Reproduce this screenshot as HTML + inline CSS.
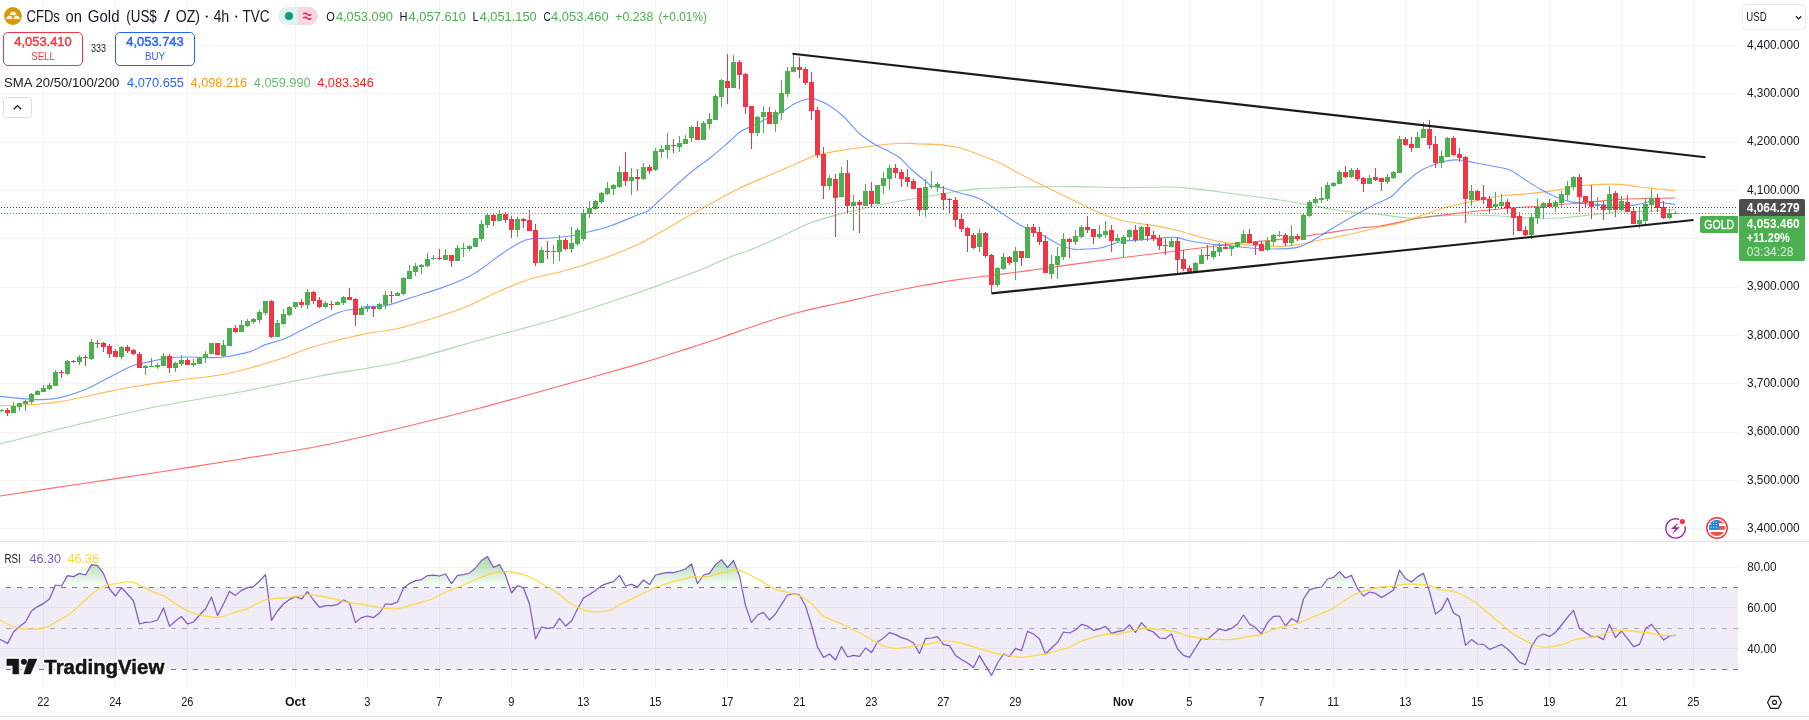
<!DOCTYPE html>
<html><head><meta charset="utf-8"><title>CFDs on Gold</title><style>html,body{margin:0;padding:0;background:#fff;overflow:hidden}svg{display:block;will-change:transform}</style></head><body>
<svg width="1809" height="720" viewBox="0 0 1809 720" font-family='"Liberation Sans", sans-serif'>
<rect width="1809" height="720" fill="#fff"/>
<g shape-rendering="crispEdges" fill="#f2f4f4">
<rect x="43" y="0" width="1" height="688"/>
<rect x="115" y="0" width="1" height="688"/>
<rect x="187" y="0" width="1" height="688"/>
<rect x="295" y="0" width="1" height="688"/>
<rect x="367" y="0" width="1" height="688"/>
<rect x="439" y="0" width="1" height="688"/>
<rect x="511" y="0" width="1" height="688"/>
<rect x="583" y="0" width="1" height="688"/>
<rect x="655" y="0" width="1" height="688"/>
<rect x="727" y="0" width="1" height="688"/>
<rect x="799" y="0" width="1" height="688"/>
<rect x="871" y="0" width="1" height="688"/>
<rect x="943" y="0" width="1" height="688"/>
<rect x="1015" y="0" width="1" height="688"/>
<rect x="1123" y="0" width="1" height="688"/>
<rect x="1189" y="0" width="1" height="688"/>
<rect x="1261" y="0" width="1" height="688"/>
<rect x="1333" y="0" width="1" height="688"/>
<rect x="1405" y="0" width="1" height="688"/>
<rect x="1477" y="0" width="1" height="688"/>
<rect x="1549" y="0" width="1" height="688"/>
<rect x="1621" y="0" width="1" height="688"/>
<rect x="1693" y="0" width="1" height="688"/>
<rect x="0" y="45" width="1738" height="1"/>
<rect x="0" y="93" width="1738" height="1"/>
<rect x="0" y="142" width="1738" height="1"/>
<rect x="0" y="190" width="1738" height="1"/>
<rect x="0" y="238" width="1738" height="1"/>
<rect x="0" y="287" width="1738" height="1"/>
<rect x="0" y="335" width="1738" height="1"/>
<rect x="0" y="383" width="1738" height="1"/>
<rect x="0" y="432" width="1738" height="1"/>
<rect x="0" y="480" width="1738" height="1"/>
<rect x="0" y="528" width="1738" height="1"/>
<rect x="0" y="567" width="1738" height="1"/>
<rect x="0" y="607" width="1738" height="1"/>
<rect x="0" y="648" width="1738" height="1"/>
</g>
<rect x="0" y="587.4" width="1738" height="82" fill="#7e57c2" fill-opacity="0.115"/>
<path d="M0.0 496.0 C13.3 494.0 53.3 488.0 80.0 484.0 C106.7 480.0 133.3 476.1 160.0 472.0 C186.7 467.9 213.3 463.5 240.0 459.2 C266.7 454.9 293.3 451.2 320.0 446.0 C346.7 440.8 373.3 434.3 400.0 428.0 C426.7 421.7 453.3 415.0 480.0 408.0 C506.7 401.0 533.3 393.4 560.0 386.0 C586.7 378.6 620.0 369.4 640.0 363.6 C660.0 357.8 666.7 355.3 680.0 351.0 C693.3 346.7 706.7 342.5 720.0 338.0 C733.3 333.5 746.7 328.3 760.0 324.0 C773.3 319.7 786.7 315.5 800.0 312.0 C813.3 308.5 826.7 306.0 840.0 303.0 C853.3 300.0 866.7 296.8 880.0 294.0 C893.3 291.2 906.7 288.4 920.0 286.0 C933.3 283.6 948.3 281.1 960.0 279.4 C971.7 277.7 983.3 276.4 990.0 275.6 C996.7 274.8 991.7 275.5 1000.0 274.4 C1008.3 273.3 1027.0 270.8 1040.0 269.0 C1053.0 267.2 1064.7 265.4 1078.0 263.6 C1091.3 261.8 1106.3 259.8 1120.0 258.0 C1133.7 256.2 1146.7 254.7 1160.0 253.0 C1173.3 251.3 1186.7 249.7 1200.0 248.0 C1213.3 246.3 1226.7 244.4 1240.0 243.0 C1253.3 241.6 1266.7 240.9 1280.0 239.4 C1293.3 237.9 1306.7 235.9 1320.0 234.0 C1333.3 232.1 1350.0 229.3 1360.0 228.0 C1370.0 226.7 1370.0 227.7 1380.0 226.0 C1390.0 224.3 1406.7 220.2 1420.0 218.0 C1433.3 215.8 1446.7 214.5 1460.0 213.0 C1473.3 211.5 1486.7 210.2 1500.0 209.0 C1513.3 207.8 1526.7 207.0 1540.0 206.0 C1553.3 205.0 1566.7 204.1 1580.0 203.0 C1593.3 201.9 1608.3 200.2 1620.0 199.4 C1631.7 198.6 1640.8 198.6 1650.0 198.4 C1659.2 198.2 1670.8 198.1 1675.0 198.0" fill="none" stroke="#ff2020" stroke-opacity="0.66" stroke-width="1.15" stroke-linejoin="round"/>
<path d="M0.0 444.0 C13.3 440.7 53.3 430.3 80.0 424.0 C106.7 417.7 133.3 411.3 160.0 406.0 C186.7 400.7 213.3 397.0 240.0 392.0 C266.7 387.0 293.3 381.0 320.0 376.0 C346.7 371.0 373.3 368.0 400.0 362.0 C426.7 356.0 453.3 347.3 480.0 340.0 C506.7 332.7 533.3 326.0 560.0 318.0 C586.7 310.0 621.7 298.2 640.0 292.0 C658.3 285.8 660.0 284.7 670.0 281.0 C680.0 277.3 690.0 274.0 700.0 270.0 C710.0 266.0 721.7 260.3 730.0 257.0 C738.3 253.7 741.7 253.3 750.0 250.0 C758.3 246.7 770.0 241.5 780.0 237.0 C790.0 232.5 800.0 226.8 810.0 223.0 C820.0 219.2 830.0 216.7 840.0 214.0 C850.0 211.3 860.0 209.2 870.0 207.0 C880.0 204.8 890.0 202.8 900.0 201.0 C910.0 199.2 920.0 197.7 930.0 196.0 C940.0 194.3 951.7 192.2 960.0 191.0 C968.3 189.8 973.3 189.1 980.0 188.6 C986.7 188.1 993.3 188.3 1000.0 188.0 C1006.7 187.7 1011.7 187.2 1020.0 187.0 C1028.3 186.8 1040.3 186.9 1050.0 186.8 C1059.7 186.7 1066.3 186.5 1078.0 186.6 C1089.7 186.7 1104.7 187.5 1120.0 187.6 C1135.3 187.7 1158.3 186.9 1170.0 187.0 C1181.7 187.1 1181.7 187.6 1190.0 188.4 C1198.3 189.2 1210.0 190.7 1220.0 192.0 C1230.0 193.3 1240.0 194.7 1250.0 196.0 C1260.0 197.3 1270.0 198.5 1280.0 200.0 C1290.0 201.5 1301.7 203.5 1310.0 205.0 C1318.3 206.5 1321.7 207.7 1330.0 209.0 C1338.3 210.3 1351.7 212.1 1360.0 213.0 C1368.3 213.9 1371.7 213.6 1380.0 214.4 C1388.3 215.2 1400.0 217.7 1410.0 218.0 C1420.0 218.3 1430.0 216.5 1440.0 216.0 C1450.0 215.5 1460.0 215.0 1470.0 215.0 C1480.0 215.0 1490.0 215.5 1500.0 216.0 C1510.0 216.5 1520.0 217.7 1530.0 218.0 C1540.0 218.3 1550.0 218.5 1560.0 218.0 C1570.0 217.5 1580.0 216.0 1590.0 215.0 C1600.0 214.0 1610.0 212.7 1620.0 212.0 C1630.0 211.3 1640.8 211.4 1650.0 211.0 C1659.2 210.6 1670.8 209.7 1675.0 209.4" fill="none" stroke="#66bb6a" stroke-opacity="0.55" stroke-width="1.15" stroke-linejoin="round"/>
<path d="M0.0 405.6 C3.3 405.5 13.3 405.3 20.0 405.0 C26.7 404.7 33.3 404.6 40.0 404.0 C46.7 403.4 52.7 402.8 60.0 401.6 C67.3 400.4 76.0 398.7 84.0 397.0 C92.0 395.3 100.0 393.3 108.0 391.6 C116.0 389.9 123.3 388.5 132.0 387.0 C140.7 385.5 150.7 383.9 160.0 382.6 C169.3 381.3 178.0 380.3 188.0 379.0 C198.0 377.7 209.7 376.8 220.0 375.0 C230.3 373.2 240.0 370.7 250.0 368.0 C260.0 365.3 270.0 362.3 280.0 359.0 C290.0 355.7 300.0 351.2 310.0 348.0 C320.0 344.8 332.0 341.7 340.0 339.6 C348.0 337.5 353.3 336.5 358.0 335.4 C362.7 334.3 361.0 334.4 368.0 333.2 C375.0 332.0 388.0 330.9 400.0 328.0 C412.0 325.1 428.7 319.7 440.0 316.0 C451.3 312.3 458.0 310.2 468.0 306.0 C478.0 301.8 489.7 295.5 500.0 291.0 C510.3 286.5 520.0 282.2 530.0 279.0 C540.0 275.8 551.0 274.3 560.0 272.0 C569.0 269.7 575.7 267.7 584.0 265.0 C592.3 262.3 600.7 259.6 610.0 256.0 C619.3 252.4 628.3 249.4 640.0 243.6 C651.7 237.8 668.3 227.6 680.0 221.0 C691.7 214.4 700.0 209.5 710.0 204.0 C720.0 198.5 730.0 192.8 740.0 188.0 C750.0 183.2 760.0 179.3 770.0 175.0 C780.0 170.7 792.3 165.3 800.0 162.0 C807.7 158.7 809.3 157.3 816.0 155.4 C822.7 153.5 831.0 152.1 840.0 150.6 C849.0 149.1 861.7 147.5 870.0 146.4 C878.3 145.3 884.0 144.5 890.0 144.0 C896.0 143.5 901.0 143.2 906.0 143.2 C911.0 143.2 914.3 143.8 920.0 144.0 C925.7 144.2 933.3 143.9 940.0 144.6 C946.7 145.3 953.3 146.3 960.0 148.0 C966.7 149.7 973.3 152.5 980.0 155.0 C986.7 157.5 993.3 159.8 1000.0 163.0 C1006.7 166.2 1011.7 169.7 1020.0 174.0 C1028.3 178.3 1040.3 184.3 1050.0 189.0 C1059.7 193.7 1069.7 198.4 1078.0 202.4 C1086.3 206.4 1093.0 210.1 1100.0 213.0 C1107.0 215.9 1113.3 218.2 1120.0 220.0 C1126.7 221.8 1133.3 222.5 1140.0 223.6 C1146.7 224.7 1153.3 225.4 1160.0 226.6 C1166.7 227.8 1173.3 229.3 1180.0 231.0 C1186.7 232.7 1193.3 235.2 1200.0 237.0 C1206.7 238.8 1213.3 240.4 1220.0 241.6 C1226.7 242.8 1233.3 243.7 1240.0 244.4 C1246.7 245.1 1253.3 245.7 1260.0 246.0 C1266.7 246.3 1273.3 246.7 1280.0 246.4 C1286.7 246.1 1293.3 245.5 1300.0 244.4 C1306.7 243.3 1313.3 241.3 1320.0 240.0 C1326.7 238.7 1333.3 237.7 1340.0 236.4 C1346.7 235.1 1353.3 233.6 1360.0 232.0 C1366.7 230.4 1373.3 228.5 1380.0 227.0 C1386.7 225.5 1393.3 224.8 1400.0 223.0 C1406.7 221.2 1413.3 218.3 1420.0 216.0 C1426.7 213.7 1433.3 211.0 1440.0 209.0 C1446.7 207.0 1453.3 205.5 1460.0 204.0 C1466.7 202.5 1473.3 201.3 1480.0 200.0 C1486.7 198.7 1493.3 196.9 1500.0 196.0 C1506.7 195.1 1513.3 195.0 1520.0 194.4 C1526.7 193.8 1533.3 193.2 1540.0 192.4 C1546.7 191.6 1553.3 190.7 1560.0 189.6 C1566.7 188.5 1573.3 186.9 1580.0 186.0 C1586.7 185.1 1593.3 184.7 1600.0 184.4 C1606.7 184.1 1613.3 184.0 1620.0 184.4 C1626.7 184.8 1633.3 186.2 1640.0 187.0 C1646.7 187.8 1654.2 188.4 1660.0 189.0 C1665.8 189.6 1672.5 190.3 1675.0 190.6" fill="none" stroke="#ff9800" stroke-opacity="0.66" stroke-width="1.15" stroke-linejoin="round"/>
<path d="M0.0 396.4 C3.3 396.7 13.3 397.9 20.0 398.4 C26.7 398.9 33.3 399.7 40.0 399.6 C46.7 399.5 52.7 399.2 60.0 397.6 C67.3 396.0 76.0 393.3 84.0 390.0 C92.0 386.7 100.0 382.0 108.0 378.0 C116.0 374.0 125.0 368.7 132.0 366.0 C139.0 363.3 143.7 363.0 150.0 361.6 C156.3 360.2 163.3 358.4 170.0 357.6 C176.7 356.8 183.3 357.0 190.0 357.0 C196.7 357.0 204.3 357.6 210.0 357.6 C215.7 357.6 217.3 358.0 224.0 357.0 C230.7 356.0 243.0 353.7 250.0 351.6 C257.0 349.5 260.3 346.5 266.0 344.4 C271.7 342.3 278.3 341.2 284.0 339.0 C289.7 336.8 294.0 334.0 300.0 331.0 C306.0 328.0 313.3 324.2 320.0 321.0 C326.7 317.8 335.0 313.9 340.0 312.0 C345.0 310.1 347.0 310.0 350.0 309.6 C353.0 309.2 355.3 310.1 358.0 309.6 C360.7 309.1 361.3 307.3 366.0 306.6 C370.7 305.9 378.7 307.0 386.0 305.6 C393.3 304.2 401.0 300.9 410.0 298.0 C419.0 295.1 430.3 291.9 440.0 288.4 C449.7 284.9 460.7 280.6 468.0 277.0 C475.3 273.4 478.7 270.7 484.0 267.0 C489.3 263.3 494.0 259.1 500.0 255.0 C506.0 250.9 515.0 245.1 520.0 242.4 C525.0 239.7 525.0 239.7 530.0 239.0 C535.0 238.3 543.3 238.5 550.0 238.0 C556.7 237.5 564.3 236.8 570.0 236.0 C575.7 235.2 577.3 234.7 584.0 233.0 C590.7 231.3 600.7 229.2 610.0 226.0 C619.3 222.8 633.7 216.5 640.0 214.0 C646.3 211.5 644.7 213.3 648.0 211.0 C651.3 208.7 653.0 206.3 660.0 200.0 C667.0 193.7 681.7 180.0 690.0 173.0 C698.3 166.0 703.3 163.3 710.0 158.0 C716.7 152.7 725.0 145.3 730.0 141.0 C735.0 136.7 736.3 134.5 740.0 132.0 C743.7 129.5 748.0 128.0 752.0 126.0 C756.0 124.0 759.3 122.2 764.0 120.0 C768.7 117.8 774.7 115.8 780.0 113.0 C785.3 110.2 791.3 105.3 796.0 103.0 C800.7 100.7 804.7 99.6 808.0 99.0 C811.3 98.4 812.3 98.2 816.0 99.4 C819.7 100.6 825.3 103.1 830.0 106.0 C834.7 108.9 839.0 112.3 844.0 117.0 C849.0 121.7 854.7 129.3 860.0 134.0 C865.3 138.7 871.0 142.0 876.0 145.0 C881.0 148.0 886.0 149.8 890.0 152.0 C894.0 154.2 896.3 155.0 900.0 158.0 C903.7 161.0 908.0 166.3 912.0 170.0 C916.0 173.7 920.7 177.3 924.0 180.0 C927.3 182.7 928.7 184.7 932.0 186.0 C935.3 187.3 939.3 186.8 944.0 188.0 C948.7 189.2 954.0 191.2 960.0 193.0 C966.0 194.8 973.3 195.8 980.0 199.0 C986.7 202.2 993.3 207.7 1000.0 212.0 C1006.7 216.3 1014.7 222.0 1020.0 225.0 C1025.3 228.0 1028.0 228.2 1032.0 230.0 C1036.0 231.8 1039.3 233.5 1044.0 236.0 C1048.7 238.5 1055.3 242.8 1060.0 245.0 C1064.7 247.2 1068.7 248.3 1072.0 249.0 C1075.3 249.7 1075.3 249.6 1080.0 249.4 C1084.7 249.2 1095.0 248.7 1100.0 248.0 C1105.0 247.3 1106.0 246.2 1110.0 245.0 C1114.0 243.8 1119.0 241.8 1124.0 241.0 C1129.0 240.2 1134.0 240.5 1140.0 240.0 C1146.0 239.5 1154.0 238.4 1160.0 238.0 C1166.0 237.6 1171.0 236.9 1176.0 237.4 C1181.0 237.9 1184.3 239.9 1190.0 241.0 C1195.7 242.1 1203.3 243.2 1210.0 244.0 C1216.7 244.8 1223.3 244.9 1230.0 245.6 C1236.7 246.3 1243.3 247.4 1250.0 248.0 C1256.7 248.6 1263.3 248.9 1270.0 249.0 C1276.7 249.1 1285.0 248.8 1290.0 248.4 C1295.0 248.0 1296.7 247.7 1300.0 246.6 C1303.3 245.5 1305.0 244.8 1310.0 242.0 C1315.0 239.2 1323.3 234.0 1330.0 230.0 C1336.7 226.0 1343.3 221.8 1350.0 218.0 C1356.7 214.2 1365.0 209.7 1370.0 207.0 C1375.0 204.3 1376.3 203.8 1380.0 202.0 C1383.7 200.2 1388.0 199.0 1392.0 196.0 C1396.0 193.0 1399.3 188.2 1404.0 184.0 C1408.7 179.8 1414.7 174.3 1420.0 171.0 C1425.3 167.7 1431.3 165.7 1436.0 164.0 C1440.7 162.3 1444.0 161.3 1448.0 160.6 C1452.0 159.9 1455.3 159.6 1460.0 160.0 C1464.7 160.4 1470.7 162.0 1476.0 163.0 C1481.3 164.0 1486.3 164.8 1492.0 166.0 C1497.7 167.2 1504.7 167.8 1510.0 170.0 C1515.3 172.2 1519.0 175.8 1524.0 179.0 C1529.0 182.2 1534.7 186.0 1540.0 189.0 C1545.3 192.0 1551.0 194.9 1556.0 197.0 C1561.0 199.1 1564.3 200.4 1570.0 201.6 C1575.7 202.8 1583.3 203.4 1590.0 204.0 C1596.7 204.6 1603.3 204.8 1610.0 205.0 C1616.7 205.2 1625.0 205.6 1630.0 205.4 C1635.0 205.2 1636.7 204.6 1640.0 204.0 C1643.3 203.4 1646.0 201.8 1650.0 201.6 C1654.0 201.4 1659.8 202.5 1664.0 203.0 C1668.2 203.5 1673.2 204.2 1675.0 204.4" fill="none" stroke="#2962ff" stroke-opacity="0.66" stroke-width="1.15" stroke-linejoin="round"/>
<g shape-rendering="crispEdges">
<rect x="1" y="409" width="1" height="3" fill="#4caf50"/>
<rect x="-1" y="410" width="5" height="1" fill="#4caf50"/>
<rect x="7" y="408" width="1" height="8" fill="#f23645"/>
<rect x="5" y="410" width="5" height="3" fill="#f23645"/>
<rect x="13" y="402" width="1" height="11" fill="#4caf50"/>
<rect x="11" y="406" width="5" height="7" fill="#4caf50"/>
<rect x="19" y="403" width="1" height="8" fill="#4caf50"/>
<rect x="17" y="403" width="5" height="4" fill="#4caf50"/>
<rect x="25" y="400" width="1" height="11" fill="#4caf50"/>
<rect x="23" y="401" width="5" height="3" fill="#4caf50"/>
<rect x="31" y="393" width="1" height="11" fill="#4caf50"/>
<rect x="29" y="394" width="5" height="8" fill="#4caf50"/>
<rect x="37" y="390" width="1" height="5" fill="#4caf50"/>
<rect x="35" y="391" width="5" height="4" fill="#4caf50"/>
<rect x="43" y="385" width="1" height="7" fill="#4caf50"/>
<rect x="41" y="388" width="5" height="4" fill="#4caf50"/>
<rect x="49" y="383" width="1" height="7" fill="#4caf50"/>
<rect x="47" y="385" width="5" height="4" fill="#4caf50"/>
<rect x="55" y="370" width="1" height="16" fill="#4caf50"/>
<rect x="53" y="372" width="5" height="14" fill="#4caf50"/>
<rect x="61" y="370" width="1" height="8" fill="#f23645"/>
<rect x="59" y="372" width="5" height="1" fill="#f23645"/>
<rect x="67" y="360" width="1" height="15" fill="#4caf50"/>
<rect x="65" y="361" width="5" height="13" fill="#4caf50"/>
<rect x="73" y="360" width="1" height="3" fill="#f23645"/>
<rect x="71" y="361" width="5" height="1" fill="#f23645"/>
<rect x="79" y="355" width="1" height="10" fill="#4caf50"/>
<rect x="77" y="357" width="5" height="5" fill="#4caf50"/>
<rect x="85" y="355" width="1" height="11" fill="#f23645"/>
<rect x="83" y="357" width="5" height="1" fill="#f23645"/>
<rect x="91" y="339" width="1" height="21" fill="#4caf50"/>
<rect x="89" y="342" width="5" height="17" fill="#4caf50"/>
<rect x="97" y="340" width="1" height="8" fill="#f23645"/>
<rect x="95" y="343" width="5" height="1" fill="#f23645"/>
<rect x="103" y="342" width="1" height="10" fill="#f23645"/>
<rect x="101" y="343" width="5" height="4" fill="#f23645"/>
<rect x="109" y="344" width="1" height="14" fill="#f23645"/>
<rect x="107" y="346" width="5" height="8" fill="#f23645"/>
<rect x="115" y="349" width="1" height="8" fill="#f23645"/>
<rect x="113" y="351" width="5" height="6" fill="#f23645"/>
<rect x="121" y="346" width="1" height="13" fill="#4caf50"/>
<rect x="119" y="347" width="5" height="10" fill="#4caf50"/>
<rect x="127" y="345" width="1" height="8" fill="#f23645"/>
<rect x="125" y="347" width="5" height="4" fill="#f23645"/>
<rect x="133" y="349" width="1" height="6" fill="#f23645"/>
<rect x="131" y="350" width="5" height="4" fill="#f23645"/>
<rect x="139" y="352" width="1" height="16" fill="#f23645"/>
<rect x="137" y="354" width="5" height="14" fill="#f23645"/>
<rect x="145" y="365" width="1" height="10" fill="#4caf50"/>
<rect x="143" y="366" width="5" height="2" fill="#4caf50"/>
<rect x="151" y="358" width="1" height="9" fill="#4caf50"/>
<rect x="149" y="366" width="5" height="1" fill="#4caf50"/>
<rect x="157" y="363" width="1" height="6" fill="#4caf50"/>
<rect x="155" y="365" width="5" height="2" fill="#4caf50"/>
<rect x="163" y="353" width="1" height="13" fill="#4caf50"/>
<rect x="161" y="356" width="5" height="10" fill="#4caf50"/>
<rect x="169" y="354" width="1" height="19" fill="#f23645"/>
<rect x="167" y="356" width="5" height="12" fill="#f23645"/>
<rect x="175" y="362" width="1" height="10" fill="#4caf50"/>
<rect x="173" y="363" width="5" height="5" fill="#4caf50"/>
<rect x="181" y="355" width="1" height="11" fill="#4caf50"/>
<rect x="179" y="360" width="5" height="4" fill="#4caf50"/>
<rect x="187" y="358" width="1" height="7" fill="#f23645"/>
<rect x="185" y="360" width="5" height="5" fill="#f23645"/>
<rect x="193" y="359" width="1" height="8" fill="#4caf50"/>
<rect x="191" y="363" width="5" height="2" fill="#4caf50"/>
<rect x="199" y="357" width="1" height="7" fill="#4caf50"/>
<rect x="197" y="358" width="5" height="6" fill="#4caf50"/>
<rect x="205" y="351" width="1" height="12" fill="#4caf50"/>
<rect x="203" y="354" width="5" height="4" fill="#4caf50"/>
<rect x="211" y="343" width="1" height="11" fill="#4caf50"/>
<rect x="209" y="343" width="5" height="11" fill="#4caf50"/>
<rect x="217" y="343" width="1" height="12" fill="#f23645"/>
<rect x="215" y="343" width="5" height="12" fill="#f23645"/>
<rect x="223" y="340" width="1" height="17" fill="#4caf50"/>
<rect x="221" y="345" width="5" height="11" fill="#4caf50"/>
<rect x="229" y="328" width="1" height="18" fill="#4caf50"/>
<rect x="227" y="328" width="5" height="18" fill="#4caf50"/>
<rect x="235" y="325" width="1" height="8" fill="#f23645"/>
<rect x="233" y="328" width="5" height="4" fill="#f23645"/>
<rect x="241" y="320" width="1" height="12" fill="#4caf50"/>
<rect x="239" y="325" width="5" height="7" fill="#4caf50"/>
<rect x="247" y="319" width="1" height="8" fill="#4caf50"/>
<rect x="245" y="321" width="5" height="5" fill="#4caf50"/>
<rect x="253" y="318" width="1" height="6" fill="#4caf50"/>
<rect x="251" y="319" width="5" height="3" fill="#4caf50"/>
<rect x="259" y="310" width="1" height="13" fill="#4caf50"/>
<rect x="257" y="312" width="5" height="8" fill="#4caf50"/>
<rect x="265" y="301" width="1" height="14" fill="#4caf50"/>
<rect x="263" y="301" width="5" height="12" fill="#4caf50"/>
<rect x="271" y="300" width="1" height="38" fill="#f23645"/>
<rect x="269" y="301" width="5" height="36" fill="#f23645"/>
<rect x="277" y="320" width="1" height="17" fill="#4caf50"/>
<rect x="275" y="323" width="5" height="14" fill="#4caf50"/>
<rect x="283" y="309" width="1" height="16" fill="#4caf50"/>
<rect x="281" y="314" width="5" height="10" fill="#4caf50"/>
<rect x="289" y="306" width="1" height="10" fill="#4caf50"/>
<rect x="287" y="307" width="5" height="8" fill="#4caf50"/>
<rect x="295" y="302" width="1" height="7" fill="#4caf50"/>
<rect x="293" y="302" width="5" height="5" fill="#4caf50"/>
<rect x="301" y="299" width="1" height="9" fill="#f23645"/>
<rect x="299" y="302" width="5" height="3" fill="#f23645"/>
<rect x="307" y="289" width="1" height="20" fill="#4caf50"/>
<rect x="305" y="292" width="5" height="13" fill="#4caf50"/>
<rect x="313" y="291" width="1" height="13" fill="#f23645"/>
<rect x="311" y="292" width="5" height="9" fill="#f23645"/>
<rect x="319" y="297" width="1" height="11" fill="#f23645"/>
<rect x="317" y="300" width="5" height="7" fill="#f23645"/>
<rect x="325" y="301" width="1" height="7" fill="#4caf50"/>
<rect x="323" y="303" width="5" height="4" fill="#4caf50"/>
<rect x="331" y="301" width="1" height="9" fill="#f23645"/>
<rect x="329" y="304" width="5" height="1" fill="#f23645"/>
<rect x="337" y="301" width="1" height="4" fill="#4caf50"/>
<rect x="335" y="302" width="5" height="3" fill="#4caf50"/>
<rect x="343" y="296" width="1" height="9" fill="#4caf50"/>
<rect x="341" y="297" width="5" height="6" fill="#4caf50"/>
<rect x="349" y="288" width="1" height="12" fill="#f23645"/>
<rect x="347" y="297" width="5" height="3" fill="#f23645"/>
<rect x="355" y="298" width="1" height="28" fill="#f23645"/>
<rect x="353" y="299" width="5" height="16" fill="#f23645"/>
<rect x="361" y="306" width="1" height="9" fill="#4caf50"/>
<rect x="359" y="308" width="5" height="7" fill="#4caf50"/>
<rect x="367" y="304" width="1" height="8" fill="#4caf50"/>
<rect x="365" y="307" width="5" height="2" fill="#4caf50"/>
<rect x="373" y="306" width="1" height="11" fill="#f23645"/>
<rect x="371" y="307" width="5" height="2" fill="#f23645"/>
<rect x="379" y="303" width="1" height="7" fill="#4caf50"/>
<rect x="377" y="304" width="5" height="5" fill="#4caf50"/>
<rect x="385" y="291" width="1" height="18" fill="#4caf50"/>
<rect x="383" y="295" width="5" height="10" fill="#4caf50"/>
<rect x="391" y="291" width="1" height="12" fill="#f23645"/>
<rect x="389" y="295" width="5" height="1" fill="#f23645"/>
<rect x="397" y="292" width="1" height="4" fill="#4caf50"/>
<rect x="395" y="293" width="5" height="3" fill="#4caf50"/>
<rect x="403" y="277" width="1" height="18" fill="#4caf50"/>
<rect x="401" y="278" width="5" height="16" fill="#4caf50"/>
<rect x="409" y="265" width="1" height="14" fill="#4caf50"/>
<rect x="407" y="271" width="5" height="8" fill="#4caf50"/>
<rect x="415" y="263" width="1" height="13" fill="#4caf50"/>
<rect x="413" y="266" width="5" height="6" fill="#4caf50"/>
<rect x="421" y="264" width="1" height="10" fill="#4caf50"/>
<rect x="419" y="265" width="5" height="2" fill="#4caf50"/>
<rect x="427" y="253" width="1" height="14" fill="#4caf50"/>
<rect x="425" y="259" width="5" height="7" fill="#4caf50"/>
<rect x="433" y="255" width="1" height="5" fill="#4caf50"/>
<rect x="431" y="258" width="5" height="1" fill="#4caf50"/>
<rect x="439" y="249" width="1" height="11" fill="#f23645"/>
<rect x="437" y="258" width="5" height="1" fill="#f23645"/>
<rect x="445" y="249" width="1" height="11" fill="#4caf50"/>
<rect x="443" y="255" width="5" height="5" fill="#4caf50"/>
<rect x="451" y="255" width="1" height="12" fill="#f23645"/>
<rect x="449" y="255" width="5" height="6" fill="#f23645"/>
<rect x="457" y="245" width="1" height="16" fill="#4caf50"/>
<rect x="455" y="248" width="5" height="13" fill="#4caf50"/>
<rect x="463" y="243" width="1" height="14" fill="#4caf50"/>
<rect x="461" y="248" width="5" height="1" fill="#4caf50"/>
<rect x="469" y="245" width="1" height="6" fill="#4caf50"/>
<rect x="467" y="246" width="5" height="3" fill="#4caf50"/>
<rect x="475" y="238" width="1" height="9" fill="#4caf50"/>
<rect x="473" y="238" width="5" height="9" fill="#4caf50"/>
<rect x="481" y="220" width="1" height="21" fill="#4caf50"/>
<rect x="479" y="224" width="5" height="15" fill="#4caf50"/>
<rect x="487" y="214" width="1" height="14" fill="#4caf50"/>
<rect x="485" y="215" width="5" height="10" fill="#4caf50"/>
<rect x="493" y="214" width="1" height="12" fill="#f23645"/>
<rect x="491" y="215" width="5" height="6" fill="#f23645"/>
<rect x="499" y="210" width="1" height="11" fill="#4caf50"/>
<rect x="497" y="214" width="5" height="7" fill="#4caf50"/>
<rect x="505" y="212" width="1" height="11" fill="#f23645"/>
<rect x="503" y="214" width="5" height="6" fill="#f23645"/>
<rect x="511" y="216" width="1" height="22" fill="#f23645"/>
<rect x="509" y="219" width="5" height="11" fill="#f23645"/>
<rect x="517" y="217" width="1" height="20" fill="#4caf50"/>
<rect x="515" y="219" width="5" height="11" fill="#4caf50"/>
<rect x="523" y="218" width="1" height="10" fill="#f23645"/>
<rect x="521" y="219" width="5" height="2" fill="#f23645"/>
<rect x="529" y="210" width="1" height="21" fill="#f23645"/>
<rect x="527" y="220" width="5" height="11" fill="#f23645"/>
<rect x="535" y="224" width="1" height="42" fill="#f23645"/>
<rect x="533" y="230" width="5" height="33" fill="#f23645"/>
<rect x="541" y="247" width="1" height="16" fill="#4caf50"/>
<rect x="539" y="250" width="5" height="13" fill="#4caf50"/>
<rect x="547" y="241" width="1" height="18" fill="#f23645"/>
<rect x="545" y="251" width="5" height="1" fill="#f23645"/>
<rect x="553" y="245" width="1" height="19" fill="#4caf50"/>
<rect x="551" y="251" width="5" height="1" fill="#4caf50"/>
<rect x="559" y="235" width="1" height="26" fill="#4caf50"/>
<rect x="557" y="240" width="5" height="12" fill="#4caf50"/>
<rect x="565" y="238" width="1" height="12" fill="#f23645"/>
<rect x="563" y="240" width="5" height="9" fill="#f23645"/>
<rect x="571" y="227" width="1" height="26" fill="#4caf50"/>
<rect x="569" y="243" width="5" height="6" fill="#4caf50"/>
<rect x="577" y="228" width="1" height="18" fill="#4caf50"/>
<rect x="575" y="230" width="5" height="14" fill="#4caf50"/>
<rect x="583" y="209" width="1" height="32" fill="#4caf50"/>
<rect x="581" y="213" width="5" height="26" fill="#4caf50"/>
<rect x="589" y="201" width="1" height="17" fill="#4caf50"/>
<rect x="587" y="208" width="5" height="6" fill="#4caf50"/>
<rect x="595" y="200" width="1" height="10" fill="#4caf50"/>
<rect x="593" y="201" width="5" height="8" fill="#4caf50"/>
<rect x="601" y="192" width="1" height="12" fill="#4caf50"/>
<rect x="599" y="193" width="5" height="9" fill="#4caf50"/>
<rect x="607" y="182" width="1" height="13" fill="#4caf50"/>
<rect x="605" y="188" width="5" height="6" fill="#4caf50"/>
<rect x="613" y="184" width="1" height="11" fill="#4caf50"/>
<rect x="611" y="185" width="5" height="4" fill="#4caf50"/>
<rect x="619" y="166" width="1" height="22" fill="#4caf50"/>
<rect x="617" y="172" width="5" height="15" fill="#4caf50"/>
<rect x="625" y="152" width="1" height="34" fill="#f23645"/>
<rect x="623" y="172" width="5" height="9" fill="#f23645"/>
<rect x="631" y="168" width="1" height="27" fill="#4caf50"/>
<rect x="629" y="177" width="5" height="4" fill="#4caf50"/>
<rect x="637" y="169" width="1" height="22" fill="#f23645"/>
<rect x="635" y="177" width="5" height="2" fill="#f23645"/>
<rect x="643" y="163" width="1" height="17" fill="#4caf50"/>
<rect x="641" y="167" width="5" height="12" fill="#4caf50"/>
<rect x="649" y="165" width="1" height="9" fill="#f23645"/>
<rect x="647" y="167" width="5" height="4" fill="#f23645"/>
<rect x="655" y="148" width="1" height="23" fill="#4caf50"/>
<rect x="653" y="151" width="5" height="19" fill="#4caf50"/>
<rect x="661" y="145" width="1" height="13" fill="#4caf50"/>
<rect x="659" y="149" width="5" height="3" fill="#4caf50"/>
<rect x="667" y="133" width="1" height="26" fill="#4caf50"/>
<rect x="665" y="145" width="5" height="5" fill="#4caf50"/>
<rect x="673" y="139" width="1" height="14" fill="#f23645"/>
<rect x="671" y="145" width="5" height="1" fill="#f23645"/>
<rect x="679" y="136" width="1" height="16" fill="#4caf50"/>
<rect x="677" y="143" width="5" height="4" fill="#4caf50"/>
<rect x="685" y="135" width="1" height="9" fill="#4caf50"/>
<rect x="683" y="139" width="5" height="5" fill="#4caf50"/>
<rect x="691" y="126" width="1" height="16" fill="#4caf50"/>
<rect x="689" y="127" width="5" height="11" fill="#4caf50"/>
<rect x="697" y="121" width="1" height="19" fill="#f23645"/>
<rect x="695" y="127" width="5" height="13" fill="#f23645"/>
<rect x="703" y="121" width="1" height="19" fill="#4caf50"/>
<rect x="701" y="123" width="5" height="17" fill="#4caf50"/>
<rect x="709" y="113" width="1" height="16" fill="#4caf50"/>
<rect x="707" y="119" width="5" height="5" fill="#4caf50"/>
<rect x="715" y="94" width="1" height="26" fill="#4caf50"/>
<rect x="713" y="96" width="5" height="24" fill="#4caf50"/>
<rect x="721" y="79" width="1" height="28" fill="#4caf50"/>
<rect x="719" y="80" width="5" height="17" fill="#4caf50"/>
<rect x="727" y="54" width="1" height="50" fill="#f23645"/>
<rect x="725" y="81" width="5" height="7" fill="#f23645"/>
<rect x="733" y="55" width="1" height="33" fill="#4caf50"/>
<rect x="731" y="62" width="5" height="26" fill="#4caf50"/>
<rect x="739" y="60" width="1" height="29" fill="#f23645"/>
<rect x="737" y="62" width="5" height="13" fill="#f23645"/>
<rect x="745" y="73" width="1" height="41" fill="#f23645"/>
<rect x="743" y="74" width="5" height="33" fill="#f23645"/>
<rect x="751" y="106" width="1" height="43" fill="#f23645"/>
<rect x="749" y="106" width="5" height="27" fill="#f23645"/>
<rect x="757" y="116" width="1" height="20" fill="#4caf50"/>
<rect x="755" y="117" width="5" height="16" fill="#4caf50"/>
<rect x="763" y="106" width="1" height="27" fill="#4caf50"/>
<rect x="761" y="112" width="5" height="5" fill="#4caf50"/>
<rect x="769" y="107" width="1" height="17" fill="#f23645"/>
<rect x="767" y="112" width="5" height="12" fill="#f23645"/>
<rect x="775" y="110" width="1" height="22" fill="#4caf50"/>
<rect x="773" y="112" width="5" height="12" fill="#4caf50"/>
<rect x="781" y="80" width="1" height="40" fill="#4caf50"/>
<rect x="779" y="93" width="5" height="20" fill="#4caf50"/>
<rect x="787" y="67" width="1" height="30" fill="#4caf50"/>
<rect x="785" y="71" width="5" height="23" fill="#4caf50"/>
<rect x="793" y="54" width="1" height="18" fill="#4caf50"/>
<rect x="791" y="67" width="5" height="5" fill="#4caf50"/>
<rect x="799" y="57" width="1" height="21" fill="#f23645"/>
<rect x="797" y="67" width="5" height="3" fill="#f23645"/>
<rect x="805" y="67" width="1" height="18" fill="#f23645"/>
<rect x="803" y="69" width="5" height="14" fill="#f23645"/>
<rect x="811" y="72" width="1" height="48" fill="#f23645"/>
<rect x="809" y="82" width="5" height="29" fill="#f23645"/>
<rect x="817" y="107" width="1" height="51" fill="#f23645"/>
<rect x="815" y="110" width="5" height="45" fill="#f23645"/>
<rect x="823" y="147" width="1" height="52" fill="#f23645"/>
<rect x="821" y="154" width="5" height="32" fill="#f23645"/>
<rect x="829" y="175" width="1" height="15" fill="#4caf50"/>
<rect x="827" y="178" width="5" height="8" fill="#4caf50"/>
<rect x="835" y="174" width="1" height="63" fill="#f23645"/>
<rect x="833" y="179" width="5" height="19" fill="#f23645"/>
<rect x="841" y="167" width="1" height="30" fill="#4caf50"/>
<rect x="839" y="173" width="5" height="24" fill="#4caf50"/>
<rect x="847" y="160" width="1" height="54" fill="#f23645"/>
<rect x="845" y="173" width="5" height="33" fill="#f23645"/>
<rect x="853" y="195" width="1" height="36" fill="#4caf50"/>
<rect x="851" y="202" width="5" height="4" fill="#4caf50"/>
<rect x="859" y="200" width="1" height="33" fill="#f23645"/>
<rect x="857" y="202" width="5" height="3" fill="#f23645"/>
<rect x="865" y="184" width="1" height="22" fill="#4caf50"/>
<rect x="863" y="191" width="5" height="15" fill="#4caf50"/>
<rect x="871" y="182" width="1" height="26" fill="#f23645"/>
<rect x="869" y="191" width="5" height="13" fill="#f23645"/>
<rect x="877" y="185" width="1" height="19" fill="#4caf50"/>
<rect x="875" y="185" width="5" height="19" fill="#4caf50"/>
<rect x="883" y="172" width="1" height="22" fill="#4caf50"/>
<rect x="881" y="178" width="5" height="8" fill="#4caf50"/>
<rect x="889" y="165" width="1" height="25" fill="#4caf50"/>
<rect x="887" y="168" width="5" height="11" fill="#4caf50"/>
<rect x="895" y="164" width="1" height="14" fill="#f23645"/>
<rect x="893" y="168" width="5" height="5" fill="#f23645"/>
<rect x="901" y="169" width="1" height="18" fill="#f23645"/>
<rect x="899" y="172" width="5" height="7" fill="#f23645"/>
<rect x="907" y="169" width="1" height="18" fill="#f23645"/>
<rect x="905" y="177" width="5" height="5" fill="#f23645"/>
<rect x="913" y="179" width="1" height="10" fill="#f23645"/>
<rect x="911" y="181" width="5" height="8" fill="#f23645"/>
<rect x="919" y="188" width="1" height="28" fill="#f23645"/>
<rect x="917" y="188" width="5" height="22" fill="#f23645"/>
<rect x="925" y="179" width="1" height="38" fill="#4caf50"/>
<rect x="923" y="187" width="5" height="23" fill="#4caf50"/>
<rect x="931" y="171" width="1" height="18" fill="#4caf50"/>
<rect x="929" y="186" width="5" height="1" fill="#4caf50"/>
<rect x="937" y="182" width="1" height="10" fill="#4caf50"/>
<rect x="935" y="184" width="5" height="3" fill="#4caf50"/>
<rect x="943" y="186" width="1" height="24" fill="#f23645"/>
<rect x="941" y="193" width="5" height="7" fill="#f23645"/>
<rect x="949" y="198" width="1" height="16" fill="#f23645"/>
<rect x="947" y="199" width="5" height="1" fill="#f23645"/>
<rect x="955" y="197" width="1" height="30" fill="#f23645"/>
<rect x="953" y="200" width="5" height="20" fill="#f23645"/>
<rect x="961" y="213" width="1" height="19" fill="#f23645"/>
<rect x="959" y="219" width="5" height="10" fill="#f23645"/>
<rect x="967" y="227" width="1" height="25" fill="#f23645"/>
<rect x="965" y="228" width="5" height="8" fill="#f23645"/>
<rect x="973" y="233" width="1" height="16" fill="#f23645"/>
<rect x="971" y="235" width="5" height="13" fill="#f23645"/>
<rect x="979" y="229" width="1" height="23" fill="#4caf50"/>
<rect x="977" y="233" width="5" height="14" fill="#4caf50"/>
<rect x="985" y="232" width="1" height="26" fill="#f23645"/>
<rect x="983" y="233" width="5" height="23" fill="#f23645"/>
<rect x="991" y="254" width="1" height="39" fill="#f23645"/>
<rect x="989" y="255" width="5" height="30" fill="#f23645"/>
<rect x="997" y="267" width="1" height="20" fill="#4caf50"/>
<rect x="995" y="268" width="5" height="17" fill="#4caf50"/>
<rect x="1003" y="253" width="1" height="17" fill="#4caf50"/>
<rect x="1001" y="257" width="5" height="12" fill="#4caf50"/>
<rect x="1009" y="256" width="1" height="9" fill="#f23645"/>
<rect x="1007" y="257" width="5" height="6" fill="#f23645"/>
<rect x="1015" y="247" width="1" height="33" fill="#4caf50"/>
<rect x="1013" y="251" width="5" height="11" fill="#4caf50"/>
<rect x="1021" y="251" width="1" height="15" fill="#f23645"/>
<rect x="1019" y="251" width="5" height="7" fill="#f23645"/>
<rect x="1027" y="224" width="1" height="34" fill="#4caf50"/>
<rect x="1025" y="227" width="5" height="31" fill="#4caf50"/>
<rect x="1033" y="224" width="1" height="13" fill="#f23645"/>
<rect x="1031" y="227" width="5" height="6" fill="#f23645"/>
<rect x="1039" y="227" width="1" height="18" fill="#f23645"/>
<rect x="1037" y="232" width="5" height="10" fill="#f23645"/>
<rect x="1045" y="235" width="1" height="38" fill="#f23645"/>
<rect x="1043" y="241" width="5" height="32" fill="#f23645"/>
<rect x="1051" y="255" width="1" height="24" fill="#4caf50"/>
<rect x="1049" y="264" width="5" height="10" fill="#4caf50"/>
<rect x="1057" y="247" width="1" height="32" fill="#4caf50"/>
<rect x="1055" y="256" width="5" height="9" fill="#4caf50"/>
<rect x="1063" y="233" width="1" height="27" fill="#4caf50"/>
<rect x="1061" y="239" width="5" height="18" fill="#4caf50"/>
<rect x="1069" y="238" width="1" height="20" fill="#f23645"/>
<rect x="1067" y="239" width="5" height="3" fill="#f23645"/>
<rect x="1075" y="230" width="1" height="15" fill="#4caf50"/>
<rect x="1073" y="236" width="5" height="6" fill="#4caf50"/>
<rect x="1081" y="225" width="1" height="13" fill="#4caf50"/>
<rect x="1079" y="227" width="5" height="10" fill="#4caf50"/>
<rect x="1087" y="216" width="1" height="17" fill="#f23645"/>
<rect x="1085" y="227" width="5" height="3" fill="#f23645"/>
<rect x="1093" y="229" width="1" height="15" fill="#f23645"/>
<rect x="1091" y="229" width="5" height="8" fill="#f23645"/>
<rect x="1099" y="225" width="1" height="14" fill="#4caf50"/>
<rect x="1097" y="234" width="5" height="3" fill="#4caf50"/>
<rect x="1105" y="221" width="1" height="17" fill="#4caf50"/>
<rect x="1103" y="231" width="5" height="4" fill="#4caf50"/>
<rect x="1111" y="225" width="1" height="27" fill="#f23645"/>
<rect x="1109" y="230" width="5" height="11" fill="#f23645"/>
<rect x="1117" y="234" width="1" height="9" fill="#4caf50"/>
<rect x="1115" y="238" width="5" height="3" fill="#4caf50"/>
<rect x="1123" y="235" width="1" height="22" fill="#4caf50"/>
<rect x="1121" y="237" width="5" height="7" fill="#4caf50"/>
<rect x="1129" y="229" width="1" height="11" fill="#4caf50"/>
<rect x="1127" y="230" width="5" height="7" fill="#4caf50"/>
<rect x="1135" y="225" width="1" height="17" fill="#f23645"/>
<rect x="1133" y="230" width="5" height="10" fill="#f23645"/>
<rect x="1141" y="226" width="1" height="15" fill="#4caf50"/>
<rect x="1139" y="227" width="5" height="13" fill="#4caf50"/>
<rect x="1147" y="224" width="1" height="17" fill="#f23645"/>
<rect x="1145" y="227" width="5" height="9" fill="#f23645"/>
<rect x="1153" y="231" width="1" height="10" fill="#f23645"/>
<rect x="1151" y="235" width="5" height="4" fill="#f23645"/>
<rect x="1159" y="235" width="1" height="15" fill="#f23645"/>
<rect x="1157" y="238" width="5" height="8" fill="#f23645"/>
<rect x="1165" y="239" width="1" height="16" fill="#f23645"/>
<rect x="1163" y="245" width="5" height="1" fill="#f23645"/>
<rect x="1171" y="238" width="1" height="9" fill="#4caf50"/>
<rect x="1169" y="241" width="5" height="6" fill="#4caf50"/>
<rect x="1177" y="238" width="1" height="35" fill="#f23645"/>
<rect x="1175" y="241" width="5" height="19" fill="#f23645"/>
<rect x="1183" y="250" width="1" height="21" fill="#f23645"/>
<rect x="1181" y="259" width="5" height="10" fill="#f23645"/>
<rect x="1189" y="265" width="1" height="7" fill="#f23645"/>
<rect x="1187" y="268" width="5" height="4" fill="#f23645"/>
<rect x="1195" y="262" width="1" height="10" fill="#4caf50"/>
<rect x="1193" y="263" width="5" height="9" fill="#4caf50"/>
<rect x="1201" y="249" width="1" height="15" fill="#4caf50"/>
<rect x="1199" y="255" width="5" height="9" fill="#4caf50"/>
<rect x="1207" y="245" width="1" height="15" fill="#f23645"/>
<rect x="1205" y="255" width="5" height="1" fill="#f23645"/>
<rect x="1213" y="245" width="1" height="14" fill="#4caf50"/>
<rect x="1211" y="251" width="5" height="6" fill="#4caf50"/>
<rect x="1219" y="243" width="1" height="13" fill="#4caf50"/>
<rect x="1217" y="247" width="5" height="5" fill="#4caf50"/>
<rect x="1225" y="243" width="1" height="6" fill="#f23645"/>
<rect x="1223" y="247" width="5" height="2" fill="#f23645"/>
<rect x="1231" y="246" width="1" height="10" fill="#4caf50"/>
<rect x="1229" y="246" width="5" height="3" fill="#4caf50"/>
<rect x="1237" y="242" width="1" height="6" fill="#4caf50"/>
<rect x="1235" y="242" width="5" height="5" fill="#4caf50"/>
<rect x="1243" y="230" width="1" height="13" fill="#4caf50"/>
<rect x="1241" y="234" width="5" height="9" fill="#4caf50"/>
<rect x="1249" y="229" width="1" height="15" fill="#f23645"/>
<rect x="1247" y="234" width="5" height="9" fill="#f23645"/>
<rect x="1255" y="241" width="1" height="14" fill="#f23645"/>
<rect x="1253" y="242" width="5" height="3" fill="#f23645"/>
<rect x="1261" y="241" width="1" height="10" fill="#f23645"/>
<rect x="1259" y="244" width="5" height="7" fill="#f23645"/>
<rect x="1267" y="237" width="1" height="14" fill="#4caf50"/>
<rect x="1265" y="241" width="5" height="9" fill="#4caf50"/>
<rect x="1273" y="234" width="1" height="12" fill="#4caf50"/>
<rect x="1271" y="235" width="5" height="7" fill="#4caf50"/>
<rect x="1279" y="231" width="1" height="6" fill="#4caf50"/>
<rect x="1277" y="235" width="5" height="1" fill="#4caf50"/>
<rect x="1285" y="233" width="1" height="13" fill="#f23645"/>
<rect x="1283" y="235" width="5" height="8" fill="#f23645"/>
<rect x="1291" y="225" width="1" height="21" fill="#4caf50"/>
<rect x="1289" y="236" width="5" height="7" fill="#4caf50"/>
<rect x="1297" y="234" width="1" height="7" fill="#f23645"/>
<rect x="1295" y="236" width="5" height="3" fill="#f23645"/>
<rect x="1303" y="213" width="1" height="27" fill="#4caf50"/>
<rect x="1301" y="215" width="5" height="25" fill="#4caf50"/>
<rect x="1309" y="200" width="1" height="17" fill="#4caf50"/>
<rect x="1307" y="202" width="5" height="14" fill="#4caf50"/>
<rect x="1315" y="197" width="1" height="7" fill="#4caf50"/>
<rect x="1313" y="199" width="5" height="4" fill="#4caf50"/>
<rect x="1321" y="187" width="1" height="16" fill="#4caf50"/>
<rect x="1319" y="198" width="5" height="2" fill="#4caf50"/>
<rect x="1327" y="182" width="1" height="19" fill="#4caf50"/>
<rect x="1325" y="185" width="5" height="14" fill="#4caf50"/>
<rect x="1333" y="182" width="1" height="5" fill="#4caf50"/>
<rect x="1331" y="183" width="5" height="3" fill="#4caf50"/>
<rect x="1339" y="170" width="1" height="14" fill="#4caf50"/>
<rect x="1337" y="172" width="5" height="12" fill="#4caf50"/>
<rect x="1345" y="166" width="1" height="12" fill="#f23645"/>
<rect x="1343" y="172" width="5" height="5" fill="#f23645"/>
<rect x="1351" y="168" width="1" height="10" fill="#4caf50"/>
<rect x="1349" y="170" width="5" height="7" fill="#4caf50"/>
<rect x="1357" y="168" width="1" height="13" fill="#f23645"/>
<rect x="1355" y="170" width="5" height="9" fill="#f23645"/>
<rect x="1363" y="177" width="1" height="15" fill="#f23645"/>
<rect x="1361" y="178" width="5" height="6" fill="#f23645"/>
<rect x="1369" y="175" width="1" height="9" fill="#4caf50"/>
<rect x="1367" y="178" width="5" height="6" fill="#4caf50"/>
<rect x="1375" y="168" width="1" height="13" fill="#f23645"/>
<rect x="1373" y="177" width="5" height="3" fill="#f23645"/>
<rect x="1381" y="178" width="1" height="13" fill="#f23645"/>
<rect x="1379" y="178" width="5" height="4" fill="#f23645"/>
<rect x="1387" y="174" width="1" height="10" fill="#4caf50"/>
<rect x="1385" y="177" width="5" height="5" fill="#4caf50"/>
<rect x="1393" y="171" width="1" height="8" fill="#4caf50"/>
<rect x="1391" y="172" width="5" height="6" fill="#4caf50"/>
<rect x="1399" y="136" width="1" height="37" fill="#4caf50"/>
<rect x="1397" y="139" width="5" height="34" fill="#4caf50"/>
<rect x="1405" y="137" width="1" height="9" fill="#f23645"/>
<rect x="1403" y="139" width="5" height="6" fill="#f23645"/>
<rect x="1411" y="137" width="1" height="15" fill="#f23645"/>
<rect x="1409" y="144" width="5" height="4" fill="#f23645"/>
<rect x="1417" y="132" width="1" height="16" fill="#4caf50"/>
<rect x="1415" y="137" width="5" height="11" fill="#4caf50"/>
<rect x="1423" y="122" width="1" height="16" fill="#4caf50"/>
<rect x="1421" y="129" width="5" height="9" fill="#4caf50"/>
<rect x="1429" y="120" width="1" height="29" fill="#f23645"/>
<rect x="1427" y="129" width="5" height="16" fill="#f23645"/>
<rect x="1435" y="136" width="1" height="32" fill="#f23645"/>
<rect x="1433" y="144" width="5" height="19" fill="#f23645"/>
<rect x="1441" y="151" width="1" height="17" fill="#4caf50"/>
<rect x="1439" y="156" width="5" height="7" fill="#4caf50"/>
<rect x="1447" y="137" width="1" height="20" fill="#4caf50"/>
<rect x="1445" y="138" width="5" height="19" fill="#4caf50"/>
<rect x="1453" y="136" width="1" height="20" fill="#f23645"/>
<rect x="1451" y="138" width="5" height="17" fill="#f23645"/>
<rect x="1459" y="148" width="1" height="14" fill="#f23645"/>
<rect x="1457" y="154" width="5" height="4" fill="#f23645"/>
<rect x="1465" y="156" width="1" height="67" fill="#f23645"/>
<rect x="1463" y="157" width="5" height="42" fill="#f23645"/>
<rect x="1471" y="185" width="1" height="21" fill="#4caf50"/>
<rect x="1469" y="191" width="5" height="9" fill="#4caf50"/>
<rect x="1477" y="190" width="1" height="11" fill="#f23645"/>
<rect x="1475" y="191" width="5" height="9" fill="#f23645"/>
<rect x="1483" y="185" width="1" height="19" fill="#f23645"/>
<rect x="1481" y="197" width="5" height="3" fill="#f23645"/>
<rect x="1489" y="196" width="1" height="17" fill="#f23645"/>
<rect x="1487" y="199" width="5" height="9" fill="#f23645"/>
<rect x="1495" y="192" width="1" height="17" fill="#4caf50"/>
<rect x="1493" y="204" width="5" height="3" fill="#4caf50"/>
<rect x="1501" y="194" width="1" height="15" fill="#4caf50"/>
<rect x="1499" y="202" width="5" height="4" fill="#4caf50"/>
<rect x="1507" y="199" width="1" height="15" fill="#f23645"/>
<rect x="1505" y="202" width="5" height="6" fill="#f23645"/>
<rect x="1513" y="207" width="1" height="28" fill="#f23645"/>
<rect x="1511" y="208" width="5" height="10" fill="#f23645"/>
<rect x="1519" y="212" width="1" height="19" fill="#f23645"/>
<rect x="1517" y="216" width="5" height="15" fill="#f23645"/>
<rect x="1525" y="226" width="1" height="10" fill="#f23645"/>
<rect x="1523" y="230" width="5" height="5" fill="#f23645"/>
<rect x="1531" y="213" width="1" height="26" fill="#4caf50"/>
<rect x="1529" y="217" width="5" height="18" fill="#4caf50"/>
<rect x="1537" y="199" width="1" height="25" fill="#4caf50"/>
<rect x="1535" y="207" width="5" height="11" fill="#4caf50"/>
<rect x="1543" y="202" width="1" height="17" fill="#4caf50"/>
<rect x="1541" y="203" width="5" height="5" fill="#4caf50"/>
<rect x="1549" y="199" width="1" height="9" fill="#f23645"/>
<rect x="1547" y="203" width="5" height="4" fill="#f23645"/>
<rect x="1555" y="200" width="1" height="12" fill="#4caf50"/>
<rect x="1553" y="202" width="5" height="5" fill="#4caf50"/>
<rect x="1561" y="191" width="1" height="17" fill="#4caf50"/>
<rect x="1559" y="194" width="5" height="9" fill="#4caf50"/>
<rect x="1567" y="181" width="1" height="19" fill="#4caf50"/>
<rect x="1565" y="186" width="5" height="9" fill="#4caf50"/>
<rect x="1573" y="176" width="1" height="14" fill="#4caf50"/>
<rect x="1571" y="177" width="5" height="10" fill="#4caf50"/>
<rect x="1579" y="174" width="1" height="38" fill="#f23645"/>
<rect x="1577" y="177" width="5" height="20" fill="#f23645"/>
<rect x="1585" y="196" width="1" height="12" fill="#f23645"/>
<rect x="1583" y="196" width="5" height="6" fill="#f23645"/>
<rect x="1591" y="185" width="1" height="34" fill="#f23645"/>
<rect x="1589" y="201" width="5" height="6" fill="#f23645"/>
<rect x="1597" y="197" width="1" height="13" fill="#4caf50"/>
<rect x="1595" y="205" width="5" height="1" fill="#4caf50"/>
<rect x="1603" y="201" width="1" height="19" fill="#f23645"/>
<rect x="1601" y="205" width="5" height="5" fill="#f23645"/>
<rect x="1609" y="186" width="1" height="28" fill="#4caf50"/>
<rect x="1607" y="194" width="5" height="16" fill="#4caf50"/>
<rect x="1615" y="191" width="1" height="26" fill="#f23645"/>
<rect x="1613" y="193" width="5" height="17" fill="#f23645"/>
<rect x="1621" y="196" width="1" height="15" fill="#4caf50"/>
<rect x="1619" y="201" width="5" height="9" fill="#4caf50"/>
<rect x="1627" y="195" width="1" height="17" fill="#f23645"/>
<rect x="1625" y="202" width="5" height="10" fill="#f23645"/>
<rect x="1633" y="207" width="1" height="17" fill="#f23645"/>
<rect x="1631" y="211" width="5" height="13" fill="#f23645"/>
<rect x="1639" y="207" width="1" height="21" fill="#4caf50"/>
<rect x="1637" y="220" width="5" height="4" fill="#4caf50"/>
<rect x="1645" y="198" width="1" height="26" fill="#4caf50"/>
<rect x="1643" y="204" width="5" height="17" fill="#4caf50"/>
<rect x="1651" y="189" width="1" height="23" fill="#4caf50"/>
<rect x="1649" y="198" width="5" height="7" fill="#4caf50"/>
<rect x="1657" y="194" width="1" height="18" fill="#f23645"/>
<rect x="1655" y="198" width="5" height="10" fill="#f23645"/>
<rect x="1663" y="201" width="1" height="18" fill="#f23645"/>
<rect x="1661" y="207" width="5" height="11" fill="#f23645"/>
<rect x="1669" y="209" width="1" height="10" fill="#4caf50"/>
<rect x="1667" y="213" width="5" height="5" fill="#4caf50"/>
<rect x="1675" y="211" width="1" height="3" fill="#4caf50"/>
<rect x="1673" y="213" width="5" height="1" fill="#4caf50"/>
</g>
<g shape-rendering="crispEdges">
<line x1="1" y1="207.5" x2="1738" y2="207.5" stroke="#4a4a4a" stroke-width="1" stroke-dasharray="1 2"/>
<line x1="1" y1="213.5" x2="1738" y2="213.5" stroke="#4caf50" stroke-width="1" stroke-dasharray="1 2"/>
</g>
<line x1="792.5" y1="53.8" x2="1705.5" y2="157.2" stroke="#1a1a1a" stroke-width="2.1"/>
<line x1="991.5" y1="293.4" x2="1693.5" y2="220" stroke="#1a1a1a" stroke-width="2.1"/>
<defs><linearGradient id="ob" x1="0" y1="0" x2="0" y2="1"><stop offset="0" stop-color="#4caf50" stop-opacity="0.55"/><stop offset="1" stop-color="#4caf50" stop-opacity="0.02"/></linearGradient><clipPath id="above70"><rect x="0" y="540" width="1738" height="47.4"/></clipPath></defs>
<g clip-path="url(#above70)"><path d="M-4.5 587.4 L-4.5 638.5 L1.5 640.0 L7.5 643.6 L13.5 632.0 L19.5 626.4 L25.5 622.0 L31.5 611.0 L37.5 606.6 L43.5 603.6 L49.5 599.0 L55.5 585.0 L61.5 586.0 L67.5 575.6 L73.5 576.6 L79.5 573.4 L85.5 575.0 L91.5 564.6 L97.5 565.6 L103.5 573.6 L109.5 589.0 L115.5 596.0 L121.5 587.6 L127.5 594.0 L133.5 601.0 L139.5 624.0 L145.5 622.4 L151.5 622.0 L157.5 620.0 L163.5 608.0 L169.5 626.4 L175.5 621.0 L181.5 616.6 L187.5 624.0 L193.5 622.0 L199.5 615.0 L205.5 609.0 L211.5 597.0 L217.5 615.6 L223.5 604.0 L229.5 591.4 L235.5 595.4 L241.5 590.4 L247.5 587.6 L253.5 586.6 L259.5 581.0 L265.5 574.6 L271.5 620.4 L277.5 611.0 L283.5 604.0 L289.5 599.6 L295.5 596.4 L301.5 599.0 L307.5 591.6 L313.5 600.0 L319.5 607.4 L325.5 605.6 L331.5 605.6 L337.5 604.6 L343.5 600.0 L349.5 603.0 L355.5 622.6 L361.5 617.6 L367.5 616.0 L373.5 617.6 L379.5 613.0 L385.5 604.0 L391.5 604.4 L397.5 602.0 L403.5 588.0 L409.5 583.6 L415.5 580.6 L421.5 579.6 L427.5 575.6 L433.5 575.2 L439.5 576.0 L445.5 574.0 L451.5 583.6 L457.5 575.4 L463.5 574.6 L469.5 573.0 L475.5 568.0 L481.5 560.4 L487.5 556.6 L493.5 567.4 L499.5 564.6 L505.5 575.0 L511.5 593.0 L517.5 585.6 L523.5 588.0 L529.5 604.0 L535.5 639.0 L541.5 627.0 L547.5 628.4 L553.5 627.6 L559.5 618.4 L565.5 626.0 L571.5 621.0 L577.5 609.0 L583.5 598.0 L589.5 594.6 L595.5 590.4 L601.5 585.6 L607.5 583.4 L613.5 581.6 L619.5 575.4 L625.5 586.0 L631.5 584.4 L637.5 587.0 L643.5 580.0 L649.5 584.6 L655.5 575.0 L661.5 573.6 L667.5 572.4 L673.5 572.6 L679.5 571.0 L685.5 569.0 L691.5 564.0 L697.5 583.6 L703.5 575.0 L709.5 573.4 L715.5 564.6 L721.5 559.6 L727.5 567.6 L733.5 560.4 L739.5 576.0 L745.5 605.6 L751.5 622.6 L757.5 615.0 L763.5 612.4 L769.5 620.0 L775.5 614.0 L781.5 604.4 L787.5 595.0 L793.5 593.6 L799.5 595.0 L805.5 606.0 L811.5 625.0 L817.5 647.0 L823.5 657.4 L829.5 654.0 L835.5 660.0 L841.5 646.6 L847.5 657.0 L853.5 655.4 L859.5 656.4 L865.5 648.0 L871.5 652.6 L877.5 642.0 L883.5 638.0 L889.5 632.6 L895.5 634.6 L901.5 637.6 L907.5 639.4 L913.5 643.0 L919.5 653.4 L925.5 638.6 L931.5 638.0 L937.5 636.6 L943.5 644.6 L949.5 645.6 L955.5 655.4 L961.5 659.4 L967.5 663.0 L973.5 667.6 L979.5 655.6 L985.5 665.6 L991.5 675.4 L997.5 663.0 L1003.5 654.0 L1009.5 656.4 L1015.5 648.4 L1021.5 650.6 L1027.5 631.4 L1033.5 634.0 L1039.5 639.0 L1045.5 654.0 L1051.5 648.0 L1057.5 642.4 L1063.5 632.0 L1069.5 633.0 L1075.5 630.0 L1081.5 624.4 L1087.5 626.0 L1093.5 630.4 L1099.5 629.0 L1105.5 626.4 L1111.5 633.4 L1117.5 631.6 L1123.5 630.4 L1129.5 625.0 L1135.5 632.4 L1141.5 622.6 L1147.5 629.6 L1153.5 632.0 L1159.5 638.0 L1165.5 638.6 L1171.5 634.0 L1177.5 649.0 L1183.5 655.4 L1189.5 657.4 L1195.5 648.0 L1201.5 638.4 L1207.5 639.4 L1213.5 634.0 L1219.5 629.0 L1225.5 630.6 L1231.5 628.4 L1237.5 624.0 L1243.5 615.0 L1249.5 624.0 L1255.5 627.6 L1261.5 634.0 L1267.5 622.6 L1273.5 616.4 L1279.5 616.0 L1285.5 626.0 L1291.5 618.6 L1297.5 622.0 L1303.5 599.0 L1309.5 589.6 L1315.5 588.0 L1321.5 587.0 L1327.5 579.0 L1333.5 577.4 L1339.5 571.6 L1345.5 578.0 L1351.5 575.4 L1357.5 588.4 L1363.5 596.0 L1369.5 592.0 L1375.5 593.4 L1381.5 597.6 L1387.5 594.0 L1393.5 590.0 L1399.5 570.0 L1405.5 578.6 L1411.5 582.0 L1417.5 576.6 L1423.5 573.4 L1429.5 591.6 L1435.5 614.0 L1441.5 609.6 L1447.5 598.0 L1453.5 613.0 L1459.5 616.4 L1465.5 645.4 L1471.5 639.6 L1477.5 644.0 L1483.5 644.4 L1489.5 649.4 L1495.5 647.0 L1501.5 644.4 L1507.5 649.0 L1513.5 655.0 L1519.5 662.4 L1525.5 664.6 L1531.5 646.4 L1537.5 637.0 L1543.5 634.0 L1549.5 636.4 L1555.5 632.4 L1561.5 625.0 L1567.5 617.4 L1573.5 610.4 L1579.5 628.6 L1585.5 632.6 L1591.5 636.6 L1597.5 636.4 L1603.5 639.6 L1609.5 624.4 L1615.5 637.6 L1621.5 631.0 L1627.5 638.6 L1633.5 646.6 L1639.5 644.4 L1645.5 628.6 L1651.5 624.4 L1657.5 632.0 L1663.5 640.0 L1669.5 636.0 L1675.5 635.4 L1675.5 587.4Z" fill="#4caf50" fill-opacity="0.0"/>
</g>
<defs><linearGradient id="ob2" gradientUnits="userSpaceOnUse" x1="0" y1="556" x2="0" y2="587.4"><stop offset="0" stop-color="#4caf50" stop-opacity="0.5"/><stop offset="1" stop-color="#4caf50" stop-opacity="0.02"/></linearGradient></defs>
<path d="M-4.5 587.4 L-4.5 638.5 L1.5 640.0 L7.5 643.6 L13.5 632.0 L19.5 626.4 L25.5 622.0 L31.5 611.0 L37.5 606.6 L43.5 603.6 L49.5 599.0 L55.5 585.0 L61.5 586.0 L67.5 575.6 L73.5 576.6 L79.5 573.4 L85.5 575.0 L91.5 564.6 L97.5 565.6 L103.5 573.6 L109.5 589.0 L115.5 596.0 L121.5 587.6 L127.5 594.0 L133.5 601.0 L139.5 624.0 L145.5 622.4 L151.5 622.0 L157.5 620.0 L163.5 608.0 L169.5 626.4 L175.5 621.0 L181.5 616.6 L187.5 624.0 L193.5 622.0 L199.5 615.0 L205.5 609.0 L211.5 597.0 L217.5 615.6 L223.5 604.0 L229.5 591.4 L235.5 595.4 L241.5 590.4 L247.5 587.6 L253.5 586.6 L259.5 581.0 L265.5 574.6 L271.5 620.4 L277.5 611.0 L283.5 604.0 L289.5 599.6 L295.5 596.4 L301.5 599.0 L307.5 591.6 L313.5 600.0 L319.5 607.4 L325.5 605.6 L331.5 605.6 L337.5 604.6 L343.5 600.0 L349.5 603.0 L355.5 622.6 L361.5 617.6 L367.5 616.0 L373.5 617.6 L379.5 613.0 L385.5 604.0 L391.5 604.4 L397.5 602.0 L403.5 588.0 L409.5 583.6 L415.5 580.6 L421.5 579.6 L427.5 575.6 L433.5 575.2 L439.5 576.0 L445.5 574.0 L451.5 583.6 L457.5 575.4 L463.5 574.6 L469.5 573.0 L475.5 568.0 L481.5 560.4 L487.5 556.6 L493.5 567.4 L499.5 564.6 L505.5 575.0 L511.5 593.0 L517.5 585.6 L523.5 588.0 L529.5 604.0 L535.5 639.0 L541.5 627.0 L547.5 628.4 L553.5 627.6 L559.5 618.4 L565.5 626.0 L571.5 621.0 L577.5 609.0 L583.5 598.0 L589.5 594.6 L595.5 590.4 L601.5 585.6 L607.5 583.4 L613.5 581.6 L619.5 575.4 L625.5 586.0 L631.5 584.4 L637.5 587.0 L643.5 580.0 L649.5 584.6 L655.5 575.0 L661.5 573.6 L667.5 572.4 L673.5 572.6 L679.5 571.0 L685.5 569.0 L691.5 564.0 L697.5 583.6 L703.5 575.0 L709.5 573.4 L715.5 564.6 L721.5 559.6 L727.5 567.6 L733.5 560.4 L739.5 576.0 L745.5 605.6 L751.5 622.6 L757.5 615.0 L763.5 612.4 L769.5 620.0 L775.5 614.0 L781.5 604.4 L787.5 595.0 L793.5 593.6 L799.5 595.0 L805.5 606.0 L811.5 625.0 L817.5 647.0 L823.5 657.4 L829.5 654.0 L835.5 660.0 L841.5 646.6 L847.5 657.0 L853.5 655.4 L859.5 656.4 L865.5 648.0 L871.5 652.6 L877.5 642.0 L883.5 638.0 L889.5 632.6 L895.5 634.6 L901.5 637.6 L907.5 639.4 L913.5 643.0 L919.5 653.4 L925.5 638.6 L931.5 638.0 L937.5 636.6 L943.5 644.6 L949.5 645.6 L955.5 655.4 L961.5 659.4 L967.5 663.0 L973.5 667.6 L979.5 655.6 L985.5 665.6 L991.5 675.4 L997.5 663.0 L1003.5 654.0 L1009.5 656.4 L1015.5 648.4 L1021.5 650.6 L1027.5 631.4 L1033.5 634.0 L1039.5 639.0 L1045.5 654.0 L1051.5 648.0 L1057.5 642.4 L1063.5 632.0 L1069.5 633.0 L1075.5 630.0 L1081.5 624.4 L1087.5 626.0 L1093.5 630.4 L1099.5 629.0 L1105.5 626.4 L1111.5 633.4 L1117.5 631.6 L1123.5 630.4 L1129.5 625.0 L1135.5 632.4 L1141.5 622.6 L1147.5 629.6 L1153.5 632.0 L1159.5 638.0 L1165.5 638.6 L1171.5 634.0 L1177.5 649.0 L1183.5 655.4 L1189.5 657.4 L1195.5 648.0 L1201.5 638.4 L1207.5 639.4 L1213.5 634.0 L1219.5 629.0 L1225.5 630.6 L1231.5 628.4 L1237.5 624.0 L1243.5 615.0 L1249.5 624.0 L1255.5 627.6 L1261.5 634.0 L1267.5 622.6 L1273.5 616.4 L1279.5 616.0 L1285.5 626.0 L1291.5 618.6 L1297.5 622.0 L1303.5 599.0 L1309.5 589.6 L1315.5 588.0 L1321.5 587.0 L1327.5 579.0 L1333.5 577.4 L1339.5 571.6 L1345.5 578.0 L1351.5 575.4 L1357.5 588.4 L1363.5 596.0 L1369.5 592.0 L1375.5 593.4 L1381.5 597.6 L1387.5 594.0 L1393.5 590.0 L1399.5 570.0 L1405.5 578.6 L1411.5 582.0 L1417.5 576.6 L1423.5 573.4 L1429.5 591.6 L1435.5 614.0 L1441.5 609.6 L1447.5 598.0 L1453.5 613.0 L1459.5 616.4 L1465.5 645.4 L1471.5 639.6 L1477.5 644.0 L1483.5 644.4 L1489.5 649.4 L1495.5 647.0 L1501.5 644.4 L1507.5 649.0 L1513.5 655.0 L1519.5 662.4 L1525.5 664.6 L1531.5 646.4 L1537.5 637.0 L1543.5 634.0 L1549.5 636.4 L1555.5 632.4 L1561.5 625.0 L1567.5 617.4 L1573.5 610.4 L1579.5 628.6 L1585.5 632.6 L1591.5 636.6 L1597.5 636.4 L1603.5 639.6 L1609.5 624.4 L1615.5 637.6 L1621.5 631.0 L1627.5 638.6 L1633.5 646.6 L1639.5 644.4 L1645.5 628.6 L1651.5 624.4 L1657.5 632.0 L1663.5 640.0 L1669.5 636.0 L1675.5 635.4 L1675.5 587.4Z" fill="url(#ob2)" clip-path="url(#above70)"/>
<g shape-rendering="crispEdges" fill="none">
<line x1="6" y1="587.5" x2="1738" y2="587.5" stroke="#787b86" stroke-width="1" stroke-dasharray="5 6"/>
<line x1="6" y1="628.5" x2="1738" y2="628.5" stroke="#787b86" stroke-opacity="0.6" stroke-width="1" stroke-dasharray="5 6"/>
<line x1="6" y1="669.5" x2="1738" y2="669.5" stroke="#787b86" stroke-width="1" stroke-dasharray="5 6"/>
</g>
<path d="M-4.5 638.5 L1.5 640.0 L7.5 643.6 L13.5 632.0 L19.5 626.4 L25.5 622.0 L31.5 611.0 L37.5 606.6 L43.5 603.6 L49.5 599.0 L55.5 585.0 L61.5 586.0 L67.5 575.6 L73.5 576.6 L79.5 573.4 L85.5 575.0 L91.5 564.6 L97.5 565.6 L103.5 573.6 L109.5 589.0 L115.5 596.0 L121.5 587.6 L127.5 594.0 L133.5 601.0 L139.5 624.0 L145.5 622.4 L151.5 622.0 L157.5 620.0 L163.5 608.0 L169.5 626.4 L175.5 621.0 L181.5 616.6 L187.5 624.0 L193.5 622.0 L199.5 615.0 L205.5 609.0 L211.5 597.0 L217.5 615.6 L223.5 604.0 L229.5 591.4 L235.5 595.4 L241.5 590.4 L247.5 587.6 L253.5 586.6 L259.5 581.0 L265.5 574.6 L271.5 620.4 L277.5 611.0 L283.5 604.0 L289.5 599.6 L295.5 596.4 L301.5 599.0 L307.5 591.6 L313.5 600.0 L319.5 607.4 L325.5 605.6 L331.5 605.6 L337.5 604.6 L343.5 600.0 L349.5 603.0 L355.5 622.6 L361.5 617.6 L367.5 616.0 L373.5 617.6 L379.5 613.0 L385.5 604.0 L391.5 604.4 L397.5 602.0 L403.5 588.0 L409.5 583.6 L415.5 580.6 L421.5 579.6 L427.5 575.6 L433.5 575.2 L439.5 576.0 L445.5 574.0 L451.5 583.6 L457.5 575.4 L463.5 574.6 L469.5 573.0 L475.5 568.0 L481.5 560.4 L487.5 556.6 L493.5 567.4 L499.5 564.6 L505.5 575.0 L511.5 593.0 L517.5 585.6 L523.5 588.0 L529.5 604.0 L535.5 639.0 L541.5 627.0 L547.5 628.4 L553.5 627.6 L559.5 618.4 L565.5 626.0 L571.5 621.0 L577.5 609.0 L583.5 598.0 L589.5 594.6 L595.5 590.4 L601.5 585.6 L607.5 583.4 L613.5 581.6 L619.5 575.4 L625.5 586.0 L631.5 584.4 L637.5 587.0 L643.5 580.0 L649.5 584.6 L655.5 575.0 L661.5 573.6 L667.5 572.4 L673.5 572.6 L679.5 571.0 L685.5 569.0 L691.5 564.0 L697.5 583.6 L703.5 575.0 L709.5 573.4 L715.5 564.6 L721.5 559.6 L727.5 567.6 L733.5 560.4 L739.5 576.0 L745.5 605.6 L751.5 622.6 L757.5 615.0 L763.5 612.4 L769.5 620.0 L775.5 614.0 L781.5 604.4 L787.5 595.0 L793.5 593.6 L799.5 595.0 L805.5 606.0 L811.5 625.0 L817.5 647.0 L823.5 657.4 L829.5 654.0 L835.5 660.0 L841.5 646.6 L847.5 657.0 L853.5 655.4 L859.5 656.4 L865.5 648.0 L871.5 652.6 L877.5 642.0 L883.5 638.0 L889.5 632.6 L895.5 634.6 L901.5 637.6 L907.5 639.4 L913.5 643.0 L919.5 653.4 L925.5 638.6 L931.5 638.0 L937.5 636.6 L943.5 644.6 L949.5 645.6 L955.5 655.4 L961.5 659.4 L967.5 663.0 L973.5 667.6 L979.5 655.6 L985.5 665.6 L991.5 675.4 L997.5 663.0 L1003.5 654.0 L1009.5 656.4 L1015.5 648.4 L1021.5 650.6 L1027.5 631.4 L1033.5 634.0 L1039.5 639.0 L1045.5 654.0 L1051.5 648.0 L1057.5 642.4 L1063.5 632.0 L1069.5 633.0 L1075.5 630.0 L1081.5 624.4 L1087.5 626.0 L1093.5 630.4 L1099.5 629.0 L1105.5 626.4 L1111.5 633.4 L1117.5 631.6 L1123.5 630.4 L1129.5 625.0 L1135.5 632.4 L1141.5 622.6 L1147.5 629.6 L1153.5 632.0 L1159.5 638.0 L1165.5 638.6 L1171.5 634.0 L1177.5 649.0 L1183.5 655.4 L1189.5 657.4 L1195.5 648.0 L1201.5 638.4 L1207.5 639.4 L1213.5 634.0 L1219.5 629.0 L1225.5 630.6 L1231.5 628.4 L1237.5 624.0 L1243.5 615.0 L1249.5 624.0 L1255.5 627.6 L1261.5 634.0 L1267.5 622.6 L1273.5 616.4 L1279.5 616.0 L1285.5 626.0 L1291.5 618.6 L1297.5 622.0 L1303.5 599.0 L1309.5 589.6 L1315.5 588.0 L1321.5 587.0 L1327.5 579.0 L1333.5 577.4 L1339.5 571.6 L1345.5 578.0 L1351.5 575.4 L1357.5 588.4 L1363.5 596.0 L1369.5 592.0 L1375.5 593.4 L1381.5 597.6 L1387.5 594.0 L1393.5 590.0 L1399.5 570.0 L1405.5 578.6 L1411.5 582.0 L1417.5 576.6 L1423.5 573.4 L1429.5 591.6 L1435.5 614.0 L1441.5 609.6 L1447.5 598.0 L1453.5 613.0 L1459.5 616.4 L1465.5 645.4 L1471.5 639.6 L1477.5 644.0 L1483.5 644.4 L1489.5 649.4 L1495.5 647.0 L1501.5 644.4 L1507.5 649.0 L1513.5 655.0 L1519.5 662.4 L1525.5 664.6 L1531.5 646.4 L1537.5 637.0 L1543.5 634.0 L1549.5 636.4 L1555.5 632.4 L1561.5 625.0 L1567.5 617.4 L1573.5 610.4 L1579.5 628.6 L1585.5 632.6 L1591.5 636.6 L1597.5 636.4 L1603.5 639.6 L1609.5 624.4 L1615.5 637.6 L1621.5 631.0 L1627.5 638.6 L1633.5 646.6 L1639.5 644.4 L1645.5 628.6 L1651.5 624.4 L1657.5 632.0 L1663.5 640.0 L1669.5 636.0 L1675.5 635.4" fill="none" stroke="#7e57c2" stroke-width="1.2" stroke-linejoin="round"/>
<path d="M0.0 620.0 C2.0 621.0 8.0 624.5 12.0 626.0 C16.0 627.5 18.7 628.7 24.0 629.0 C29.3 629.3 38.7 629.2 44.0 628.0 C49.3 626.8 52.0 624.2 56.0 622.0 C60.0 619.8 64.0 617.8 68.0 615.0 C72.0 612.2 76.0 608.5 80.0 605.0 C84.0 601.5 88.0 597.2 92.0 594.0 C96.0 590.8 100.0 587.7 104.0 586.0 C108.0 584.3 111.7 584.3 116.0 583.6 C120.3 582.9 126.0 581.4 130.0 581.6 C134.0 581.8 136.3 583.3 140.0 585.0 C143.7 586.7 148.0 589.8 152.0 591.6 C156.0 593.4 160.0 593.9 164.0 596.0 C168.0 598.1 172.0 601.5 176.0 604.0 C180.0 606.5 184.0 609.2 188.0 611.0 C192.0 612.8 195.0 613.9 200.0 615.0 C205.0 616.1 213.0 617.6 218.0 617.4 C223.0 617.2 225.0 615.5 230.0 614.0 C235.0 612.5 242.0 610.8 248.0 608.4 C254.0 606.0 260.0 601.3 266.0 599.6 C272.0 597.9 278.3 598.7 284.0 598.0 C289.7 597.3 295.3 596.1 300.0 595.6 C304.7 595.1 307.0 594.6 312.0 595.0 C317.0 595.4 323.7 596.7 330.0 598.0 C336.3 599.3 345.0 602.0 350.0 603.0 C355.0 604.0 356.3 603.5 360.0 604.0 C363.7 604.5 368.0 605.3 372.0 606.0 C376.0 606.7 380.0 607.5 384.0 608.0 C388.0 608.5 392.0 609.3 396.0 609.0 C400.0 608.7 404.0 607.1 408.0 606.0 C412.0 604.9 416.0 603.8 420.0 602.6 C424.0 601.4 428.0 600.6 432.0 599.0 C436.0 597.4 440.0 594.8 444.0 593.0 C448.0 591.2 452.0 589.7 456.0 588.0 C460.0 586.3 464.0 584.7 468.0 583.0 C472.0 581.3 476.3 579.5 480.0 578.0 C483.7 576.5 486.0 575.1 490.0 574.0 C494.0 572.9 499.7 571.6 504.0 571.4 C508.3 571.2 512.7 572.5 516.0 573.0 C519.3 573.5 521.3 573.8 524.0 574.6 C526.7 575.4 528.7 576.3 532.0 578.0 C535.3 579.7 540.0 582.7 544.0 585.0 C548.0 587.3 551.7 589.0 556.0 592.0 C560.3 595.0 566.0 600.3 570.0 603.0 C574.0 605.7 576.7 607.0 580.0 608.4 C583.3 609.8 586.0 610.9 590.0 611.4 C594.0 611.9 600.3 611.7 604.0 611.4 C607.7 611.1 609.3 610.7 612.0 609.6 C614.7 608.5 616.7 606.4 620.0 604.6 C623.3 602.8 628.0 600.5 632.0 598.6 C636.0 596.7 640.0 594.9 644.0 593.0 C648.0 591.1 652.0 588.7 656.0 587.0 C660.0 585.3 664.0 584.2 668.0 583.0 C672.0 581.8 676.0 581.0 680.0 580.0 C684.0 579.0 688.0 577.5 692.0 577.0 C696.0 576.5 700.7 577.2 704.0 577.0 C707.3 576.8 709.3 576.3 712.0 575.6 C714.7 574.9 717.3 573.7 720.0 573.0 C722.7 572.3 725.0 572.1 728.0 571.6 C731.0 571.1 735.0 569.8 738.0 570.0 C741.0 570.2 742.3 571.3 746.0 573.0 C749.7 574.7 755.3 577.8 760.0 580.4 C764.7 583.0 769.7 586.7 774.0 588.6 C778.3 590.5 781.7 590.8 786.0 592.0 C790.3 593.2 795.7 594.0 800.0 596.0 C804.3 598.0 808.3 600.8 812.0 604.0 C815.7 607.2 818.7 612.3 822.0 615.0 C825.3 617.7 828.3 618.3 832.0 620.0 C835.7 621.7 839.3 622.8 844.0 625.0 C848.7 627.2 855.3 630.5 860.0 633.0 C864.7 635.5 868.0 637.8 872.0 640.0 C876.0 642.2 880.3 644.6 884.0 646.0 C887.7 647.4 890.7 648.1 894.0 648.4 C897.3 648.7 900.3 648.1 904.0 647.6 C907.7 647.1 912.0 646.2 916.0 645.6 C920.0 645.0 924.0 644.7 928.0 644.0 C932.0 643.3 936.0 642.0 940.0 641.6 C944.0 641.2 948.0 641.0 952.0 641.4 C956.0 641.8 960.0 643.0 964.0 644.0 C968.0 645.0 972.0 646.4 976.0 647.6 C980.0 648.8 984.0 649.9 988.0 651.0 C992.0 652.1 996.0 653.6 1000.0 654.4 C1004.0 655.2 1008.3 655.5 1012.0 656.0 C1015.7 656.5 1018.3 657.5 1022.0 657.4 C1025.7 657.3 1030.0 656.2 1034.0 655.6 C1038.0 655.0 1041.7 654.9 1046.0 654.0 C1050.3 653.1 1056.0 651.2 1060.0 650.0 C1064.0 648.8 1066.7 648.4 1070.0 647.0 C1073.3 645.6 1076.3 643.2 1080.0 641.6 C1083.7 640.0 1088.0 638.8 1092.0 637.6 C1096.0 636.4 1100.0 635.2 1104.0 634.6 C1108.0 634.0 1112.0 634.4 1116.0 634.0 C1120.0 633.6 1124.0 632.8 1128.0 632.0 C1132.0 631.2 1136.0 629.6 1140.0 629.0 C1144.0 628.4 1148.0 628.4 1152.0 628.6 C1156.0 628.8 1160.0 629.4 1164.0 630.0 C1168.0 630.6 1172.0 631.0 1176.0 632.0 C1180.0 633.0 1184.0 635.0 1188.0 636.0 C1192.0 637.0 1196.0 637.5 1200.0 638.0 C1204.0 638.5 1208.0 638.9 1212.0 639.2 C1216.0 639.5 1220.0 639.6 1224.0 639.6 C1228.0 639.6 1232.0 639.5 1236.0 639.0 C1240.0 638.5 1244.0 637.1 1248.0 636.4 C1252.0 635.7 1256.0 636.1 1260.0 635.0 C1264.0 633.9 1268.0 631.4 1272.0 630.0 C1276.0 628.6 1280.0 627.6 1284.0 626.6 C1288.0 625.6 1292.0 625.3 1296.0 624.0 C1300.0 622.7 1304.0 620.7 1308.0 619.0 C1312.0 617.3 1316.0 615.7 1320.0 614.0 C1324.0 612.3 1328.0 611.2 1332.0 609.0 C1336.0 606.8 1340.0 603.5 1344.0 601.0 C1348.0 598.5 1352.0 595.8 1356.0 594.0 C1360.0 592.2 1364.0 591.2 1368.0 590.0 C1372.0 588.8 1376.0 587.6 1380.0 587.0 C1384.0 586.4 1388.0 586.8 1392.0 586.4 C1396.0 586.0 1400.0 584.7 1404.0 584.4 C1408.0 584.1 1412.0 584.2 1416.0 584.4 C1420.0 584.6 1424.0 584.5 1428.0 585.4 C1432.0 586.3 1436.7 588.8 1440.0 589.6 C1443.3 590.4 1445.0 589.8 1448.0 590.4 C1451.0 591.0 1454.7 591.7 1458.0 593.0 C1461.3 594.3 1465.0 596.3 1468.0 598.0 C1471.0 599.7 1472.7 600.5 1476.0 603.0 C1479.3 605.5 1484.0 609.7 1488.0 613.0 C1492.0 616.3 1496.0 619.7 1500.0 623.0 C1504.0 626.3 1508.0 630.2 1512.0 633.0 C1516.0 635.8 1520.3 638.0 1524.0 640.0 C1527.7 642.0 1530.7 643.8 1534.0 645.0 C1537.3 646.2 1540.3 647.2 1544.0 647.4 C1547.7 647.6 1552.3 646.7 1556.0 646.0 C1559.7 645.3 1563.0 644.4 1566.0 643.4 C1569.0 642.4 1571.0 640.9 1574.0 640.0 C1577.0 639.1 1580.3 638.6 1584.0 638.0 C1587.7 637.4 1592.3 637.2 1596.0 636.4 C1599.7 635.6 1603.3 634.2 1606.0 633.4 C1608.7 632.6 1609.7 631.9 1612.0 631.4 C1614.3 630.9 1617.0 630.5 1620.0 630.4 C1623.0 630.3 1626.7 630.7 1630.0 631.0 C1633.3 631.3 1636.7 631.7 1640.0 632.0 C1643.3 632.3 1646.7 632.5 1650.0 633.0 C1653.3 633.5 1655.8 634.6 1660.0 635.0 C1664.2 635.4 1672.5 635.3 1675.0 635.4" fill="none" stroke="#fdd835" stroke-opacity="0.9" stroke-width="1.3"/>
<g shape-rendering="crispEdges">
<rect x="0" y="541" width="1809" height="1" fill="#e0e3eb"/>
<rect x="0" y="716" width="1809" height="1" fill="#e0e3eb"/>
</g>
<rect x="1738" y="0" width="71" height="541" fill="#fff"/>
<rect x="1738" y="542" width="71" height="174" fill="#fff"/>
<text x="1747.0" y="48.8" font-size="12" fill="#131722" text-anchor="start" font-weight="normal" textLength="52.6" lengthAdjust="spacingAndGlyphs" >4,400.000</text>
<text x="1747.0" y="97.1" font-size="12" fill="#131722" text-anchor="start" font-weight="normal" textLength="52.6" lengthAdjust="spacingAndGlyphs" >4,300.000</text>
<text x="1747.0" y="145.4" font-size="12" fill="#131722" text-anchor="start" font-weight="normal" textLength="52.6" lengthAdjust="spacingAndGlyphs" >4,200.000</text>
<text x="1747.0" y="193.7" font-size="12" fill="#131722" text-anchor="start" font-weight="normal" textLength="52.6" lengthAdjust="spacingAndGlyphs" >4,100.000</text>
<text x="1747.0" y="290.3" font-size="12" fill="#131722" text-anchor="start" font-weight="normal" textLength="52.6" lengthAdjust="spacingAndGlyphs" >3,900.000</text>
<text x="1747.0" y="338.6" font-size="12" fill="#131722" text-anchor="start" font-weight="normal" textLength="52.6" lengthAdjust="spacingAndGlyphs" >3,800.000</text>
<text x="1747.0" y="386.9" font-size="12" fill="#131722" text-anchor="start" font-weight="normal" textLength="52.6" lengthAdjust="spacingAndGlyphs" >3,700.000</text>
<text x="1747.0" y="435.2" font-size="12" fill="#131722" text-anchor="start" font-weight="normal" textLength="52.6" lengthAdjust="spacingAndGlyphs" >3,600.000</text>
<text x="1747.0" y="483.5" font-size="12" fill="#131722" text-anchor="start" font-weight="normal" textLength="52.6" lengthAdjust="spacingAndGlyphs" >3,500.000</text>
<text x="1747.0" y="531.8" font-size="12" fill="#131722" text-anchor="start" font-weight="normal" textLength="52.6" lengthAdjust="spacingAndGlyphs" >3,400.000</text>
<text x="1747.2" y="570.8" font-size="12" fill="#131722" text-anchor="start" font-weight="normal" textLength="29.2" lengthAdjust="spacingAndGlyphs" >80.00</text>
<text x="1747.2" y="611.8" font-size="12" fill="#131722" text-anchor="start" font-weight="normal" textLength="29.2" lengthAdjust="spacingAndGlyphs" >60.00</text>
<text x="1747.2" y="652.8" font-size="12" fill="#131722" text-anchor="start" font-weight="normal" textLength="29.2" lengthAdjust="spacingAndGlyphs" >40.00</text>
<path d="M1741 199h62a2 2 0 0 1 2 2v15h-66v-15a2 2 0 0 1 2-2z" fill="#4d4d4d"/>
<text x="1746.8" y="211.6" font-size="12" fill="#fff" text-anchor="start" font-weight="bold" textLength="52.8" lengthAdjust="spacingAndGlyphs" >4,064.279</text>
<path d="M1739 216h66v43a2 2 0 0 1-2 2h-62a2 2 0 0 1-2-2z" fill="#4caf50"/>
<text x="1746.8" y="228.2" font-size="12" fill="#fff" text-anchor="start" font-weight="bold" textLength="52.8" lengthAdjust="spacingAndGlyphs" >4,053.460</text>
<text x="1746.8" y="242.3" font-size="12" fill="#fff" text-anchor="start" font-weight="bold" textLength="43.0" lengthAdjust="spacingAndGlyphs" >+11.29%</text>
<text x="1746.8" y="256.3" font-size="12" fill="#fff" text-anchor="start" font-weight="normal" textLength="46.5" lengthAdjust="spacingAndGlyphs" fill-opacity="0.8">03:34:28</text>
<path d="M1702 216h36v17h-36a2 2 0 0 1-2-2v-13a2 2 0 0 1 2-2z" fill="#4caf50"/>
<text x="1704.3" y="229.4" font-size="12" fill="#fff" text-anchor="start" font-weight="normal" textLength="29.8" lengthAdjust="spacingAndGlyphs" stroke="#fff" stroke-width="0.3">GOLD</text>
<rect x="1742.5" y="4.5" width="63" height="25" rx="4" fill="#fff" stroke="#ebebeb"/>
<text x="1746.3" y="20.8" font-size="12" fill="#131722" text-anchor="start" font-weight="normal" textLength="20.3" lengthAdjust="spacingAndGlyphs" >USD</text>
<path d="M1796 16.3l2.6 2.6 2.6-2.6" fill="none" stroke="#131722" stroke-width="1.3"/>
<text x="37.2" y="706.0" font-size="12" fill="#131722" text-anchor="start" font-weight="normal" textLength="12.2" lengthAdjust="spacingAndGlyphs" >22</text>
<text x="109.2" y="706.0" font-size="12" fill="#131722" text-anchor="start" font-weight="normal" textLength="12.2" lengthAdjust="spacingAndGlyphs" >24</text>
<text x="181.2" y="706.0" font-size="12" fill="#131722" text-anchor="start" font-weight="normal" textLength="12.2" lengthAdjust="spacingAndGlyphs" >26</text>
<text x="285.0" y="706.0" font-size="12" fill="#131722" text-anchor="start" font-weight="bold" textLength="20.6" lengthAdjust="spacingAndGlyphs" >Oct</text>
<text x="364.2" y="706.0" font-size="12" fill="#131722" text-anchor="start" font-weight="normal" textLength="6.2" lengthAdjust="spacingAndGlyphs" >3</text>
<text x="436.2" y="706.0" font-size="12" fill="#131722" text-anchor="start" font-weight="normal" textLength="6.2" lengthAdjust="spacingAndGlyphs" >7</text>
<text x="508.2" y="706.0" font-size="12" fill="#131722" text-anchor="start" font-weight="normal" textLength="6.2" lengthAdjust="spacingAndGlyphs" >9</text>
<text x="577.2" y="706.0" font-size="12" fill="#131722" text-anchor="start" font-weight="normal" textLength="12.2" lengthAdjust="spacingAndGlyphs" >13</text>
<text x="649.2" y="706.0" font-size="12" fill="#131722" text-anchor="start" font-weight="normal" textLength="12.2" lengthAdjust="spacingAndGlyphs" >15</text>
<text x="721.2" y="706.0" font-size="12" fill="#131722" text-anchor="start" font-weight="normal" textLength="12.2" lengthAdjust="spacingAndGlyphs" >17</text>
<text x="793.2" y="706.0" font-size="12" fill="#131722" text-anchor="start" font-weight="normal" textLength="12.2" lengthAdjust="spacingAndGlyphs" >21</text>
<text x="865.2" y="706.0" font-size="12" fill="#131722" text-anchor="start" font-weight="normal" textLength="12.2" lengthAdjust="spacingAndGlyphs" >23</text>
<text x="937.2" y="706.0" font-size="12" fill="#131722" text-anchor="start" font-weight="normal" textLength="12.2" lengthAdjust="spacingAndGlyphs" >27</text>
<text x="1009.2" y="706.0" font-size="12" fill="#131722" text-anchor="start" font-weight="normal" textLength="12.2" lengthAdjust="spacingAndGlyphs" >29</text>
<text x="1113.0" y="706.0" font-size="12" fill="#131722" text-anchor="start" font-weight="bold" textLength="20.6" lengthAdjust="spacingAndGlyphs" >Nov</text>
<text x="1186.2" y="706.0" font-size="12" fill="#131722" text-anchor="start" font-weight="normal" textLength="6.2" lengthAdjust="spacingAndGlyphs" >5</text>
<text x="1258.2" y="706.0" font-size="12" fill="#131722" text-anchor="start" font-weight="normal" textLength="6.2" lengthAdjust="spacingAndGlyphs" >7</text>
<text x="1327.2" y="706.0" font-size="12" fill="#131722" text-anchor="start" font-weight="normal" textLength="12.2" lengthAdjust="spacingAndGlyphs" >11</text>
<text x="1399.2" y="706.0" font-size="12" fill="#131722" text-anchor="start" font-weight="normal" textLength="12.2" lengthAdjust="spacingAndGlyphs" >13</text>
<text x="1471.2" y="706.0" font-size="12" fill="#131722" text-anchor="start" font-weight="normal" textLength="12.2" lengthAdjust="spacingAndGlyphs" >15</text>
<text x="1543.2" y="706.0" font-size="12" fill="#131722" text-anchor="start" font-weight="normal" textLength="12.2" lengthAdjust="spacingAndGlyphs" >19</text>
<text x="1615.2" y="706.0" font-size="12" fill="#131722" text-anchor="start" font-weight="normal" textLength="12.2" lengthAdjust="spacingAndGlyphs" >21</text>
<text x="1687.2" y="706.0" font-size="12" fill="#131722" text-anchor="start" font-weight="normal" textLength="12.2" lengthAdjust="spacingAndGlyphs" >25</text>
<path d="M1767.6 702.4 L1770.6 696.4 L1778.4 696.4 L1781.4 702.4 L1778.4 708.4 L1770.6 708.4Z" fill="none" stroke="#131722" stroke-width="1.2" stroke-linejoin="round"/>
<circle cx="1774.5" cy="702.4" r="2" fill="none" stroke="#131722" stroke-width="1.1"/>
<path d="M1678.6 519.2 A9.7 9.7 0 1 0 1685.1 526.6" fill="none" stroke="#9c27b0" stroke-width="1.4" stroke-linecap="round"/>
<path d="M1678.3 522.4L1670.9 529H1675.2L1672 534.4L1679.9 527.3H1675.6Z" fill="#9c27b0"/>
<circle cx="1682.4" cy="521.6" r="2.6" fill="#f23645"/>
<circle cx="1717" cy="528" r="10.2" fill="#fff" stroke="#f23645" stroke-width="1.5"/>
<defs><clipPath id="fl"><circle cx="1717" cy="528" r="8"/></clipPath></defs>
<g clip-path="url(#fl)"><rect x="1709" y="520" width="16" height="16" fill="#fff"/><rect x="1709" y="520" width="16" height="3.4" fill="#ef5350"/><rect x="1709" y="526" width="16" height="3.8" fill="#ef5350"/><rect x="1709" y="532" width="16" height="4" fill="#ef5350"/><rect x="1709" y="520" width="10" height="9.8" fill="#1e88e5"/><g fill="#fff" fill-opacity="0.85"><rect x="1710.5" y="524" width="1" height="1"/><rect x="1713" y="521.6" width="1" height="1"/><rect x="1713" y="524" width="1" height="1"/><rect x="1715.8" y="521.6" width="1" height="1"/><rect x="1715.8" y="524" width="1" height="1"/><rect x="1710.5" y="526.8" width="1" height="1"/><rect x="1713" y="526.8" width="1" height="1"/><rect x="1715.8" y="526.8" width="1" height="1"/></g></g>
<circle cx="12.9" cy="16" r="8.9" fill="#d59b06"/>
<path d="M11.5 12H14.8L16.3 14.8H9.8ZM7.8 16.2H11L12.3 18.7H6.2ZM15 16.2H18.2L20 18.7H13.8Z" fill="#fff" stroke="#fff" stroke-width="0.5" stroke-linejoin="round"/>
<text x="26.5" y="21.6" font-size="15.6" fill="#131722" text-anchor="start" font-weight="normal" textLength="33.4" lengthAdjust="spacingAndGlyphs" >CFDs</text>
<text x="65.6" y="21.6" font-size="15.6" fill="#131722" text-anchor="start" font-weight="normal" textLength="16.4" lengthAdjust="spacingAndGlyphs" >on</text>
<text x="87.8" y="21.6" font-size="15.6" fill="#131722" text-anchor="start" font-weight="normal" textLength="31.7" lengthAdjust="spacingAndGlyphs" >Gold</text>
<text x="126.3" y="21.6" font-size="15.6" fill="#131722" text-anchor="start" font-weight="normal" textLength="30.5" lengthAdjust="spacingAndGlyphs" >(US$</text>
<text x="164.0" y="21.6" font-size="15.6" fill="#131722" text-anchor="start" font-weight="normal" textLength="6.0" lengthAdjust="spacingAndGlyphs" >/</text>
<text x="175.8" y="21.6" font-size="15.6" fill="#131722" text-anchor="start" font-weight="normal" textLength="24.2" lengthAdjust="spacingAndGlyphs" >OZ)</text>
<text x="213.4" y="21.6" font-size="15.6" fill="#131722" text-anchor="start" font-weight="normal" textLength="15.8" lengthAdjust="spacingAndGlyphs" >4h</text>
<text x="242.4" y="21.6" font-size="15.6" fill="#131722" text-anchor="start" font-weight="normal" textLength="27.2" lengthAdjust="spacingAndGlyphs" >TVC</text>
<circle cx="206.8" cy="16.6" r="1.1" fill="#131722"/><circle cx="236.3" cy="16.6" r="1.1" fill="#131722"/>
<path d="M287 7h11v18h-11a9 9 0 0 1 0-18z" fill="#dff2ee"/>
<path d="M298 7h11a9 9 0 0 1 0 18h-11z" fill="#f9d6e2"/>
<circle cx="289" cy="16" r="4" fill="#089981"/>
<path d="M303 14.6q2-2 4 0t4 0M303 18.6q2-2 4 0t4 0" fill="none" stroke="#e91e63" stroke-width="1.5" transform="translate(0.3 -0.4)"/>
<text x="326.2" y="21.0" font-size="13" fill="#131722" text-anchor="start" font-weight="normal" textLength="8.6" lengthAdjust="spacingAndGlyphs" >O</text>
<text x="335.9" y="21.0" font-size="13" fill="#4caf50" text-anchor="start" font-weight="normal" textLength="57.1" lengthAdjust="spacingAndGlyphs" >4,053.090</text>
<text x="399.6" y="21.0" font-size="13" fill="#131722" text-anchor="start" font-weight="normal" textLength="8.0" lengthAdjust="spacingAndGlyphs" >H</text>
<text x="408.5" y="21.0" font-size="13" fill="#4caf50" text-anchor="start" font-weight="normal" textLength="57.5" lengthAdjust="spacingAndGlyphs" >4,057.610</text>
<text x="472.6" y="21.0" font-size="13" fill="#131722" text-anchor="start" font-weight="normal" textLength="6.2" lengthAdjust="spacingAndGlyphs" >L</text>
<text x="479.7" y="21.0" font-size="13" fill="#4caf50" text-anchor="start" font-weight="normal" textLength="57.0" lengthAdjust="spacingAndGlyphs" >4,051.150</text>
<text x="543.4" y="21.0" font-size="13" fill="#131722" text-anchor="start" font-weight="normal" textLength="7.4" lengthAdjust="spacingAndGlyphs" >C</text>
<text x="551.0" y="21.0" font-size="13" fill="#4caf50" text-anchor="start" font-weight="normal" textLength="57.6" lengthAdjust="spacingAndGlyphs" >4,053.460</text>
<text x="615.3" y="21.0" font-size="13" fill="#4caf50" text-anchor="start" font-weight="normal" textLength="38.0" lengthAdjust="spacingAndGlyphs" >+0.238</text>
<text x="658.4" y="21.0" font-size="13" fill="#4caf50" text-anchor="start" font-weight="normal" textLength="48.6" lengthAdjust="spacingAndGlyphs" >(+0.01%)</text>
<rect x="3.5" y="32.5" width="79" height="33" rx="4.5" fill="#fff" stroke="#f23645"/>
<text x="43.0" y="46.3" font-size="13" fill="#f23645" text-anchor="middle" font-weight="normal" textLength="57.5" lengthAdjust="spacingAndGlyphs" stroke="#f23645" stroke-width="0.45">4,053.410</text>
<text x="43.0" y="60.2" font-size="11" fill="#f23645" text-anchor="middle" font-weight="normal" textLength="23.5" lengthAdjust="spacingAndGlyphs" >SELL</text>
<text x="98.5" y="52.3" font-size="10" fill="#131722" text-anchor="middle" font-weight="normal" textLength="15.0" lengthAdjust="spacingAndGlyphs" >333</text>
<rect x="115.5" y="32.5" width="79" height="33" rx="4.5" fill="#fff" stroke="#2962ff"/>
<text x="155.0" y="46.3" font-size="13" fill="#2962ff" text-anchor="middle" font-weight="normal" textLength="57.5" lengthAdjust="spacingAndGlyphs" stroke="#2962ff" stroke-width="0.45">4,053.743</text>
<text x="155.0" y="60.2" font-size="11" fill="#2962ff" text-anchor="middle" font-weight="normal" textLength="20.0" lengthAdjust="spacingAndGlyphs" >BUY</text>
<text x="4.0" y="87.2" font-size="13" fill="#131722" text-anchor="start" font-weight="normal" textLength="115.4" lengthAdjust="spacingAndGlyphs" >SMA 20/50/100/200</text>
<text x="127.1" y="87.2" font-size="13" fill="#2962ff" text-anchor="start" font-weight="normal" textLength="56.9" lengthAdjust="spacingAndGlyphs" >4,070.655</text>
<text x="190.6" y="87.2" font-size="13" fill="#ff9800" text-anchor="start" font-weight="normal" textLength="56.6" lengthAdjust="spacingAndGlyphs" >4,098.216</text>
<text x="253.8" y="87.2" font-size="13" fill="#66bb6a" text-anchor="start" font-weight="normal" textLength="56.9" lengthAdjust="spacingAndGlyphs" >4,059.990</text>
<text x="317.3" y="87.2" font-size="13" fill="#ff1a1a" text-anchor="start" font-weight="normal" textLength="56.4" lengthAdjust="spacingAndGlyphs" >4,083.346</text>
<rect x="3.5" y="97.5" width="28" height="20" rx="3" fill="#fff" stroke="#dcdfe6"/>
<path d="M13.8 109.3l3.7-3.7 3.7 3.7" fill="none" stroke="#131722" stroke-width="1.3"/>
<text x="4.4" y="562.8" font-size="12" fill="#131722" text-anchor="start" font-weight="normal" textLength="16.2" lengthAdjust="spacingAndGlyphs" >RSI</text>
<text x="29.6" y="562.8" font-size="12" fill="#7e57c2" text-anchor="start" font-weight="normal" textLength="31.4" lengthAdjust="spacingAndGlyphs" >46.30</text>
<text x="67.6" y="562.8" font-size="12" fill="#fdd835" text-anchor="start" font-weight="normal" textLength="31.4" lengthAdjust="spacingAndGlyphs" >46.36</text>
<g fill="#fff" stroke="#fff" stroke-width="3.6" stroke-linejoin="round"><path d="M6.8 659h12v15h-6v-8.5h-6z"/><circle cx="23.9" cy="661.8" r="2.8"/><path d="M28.6 659h8.4l-6.6 15h-6.6z"/><text x="44.3" y="673.9" font-size="20.5" font-weight="bold" textLength="120" lengthAdjust="spacingAndGlyphs">TradingView</text></g>
<g fill="#151515" stroke="#151515" stroke-width="0.5"><path d="M6.8 659h12v15h-6v-8.5h-6z"/><circle cx="23.9" cy="661.8" r="2.8"/><path d="M28.6 659h8.4l-6.6 15h-6.6z"/><text x="44.3" y="673.9" font-size="20.5" font-weight="bold" textLength="120" lengthAdjust="spacingAndGlyphs">TradingView</text></g>
</svg>
</body></html>
